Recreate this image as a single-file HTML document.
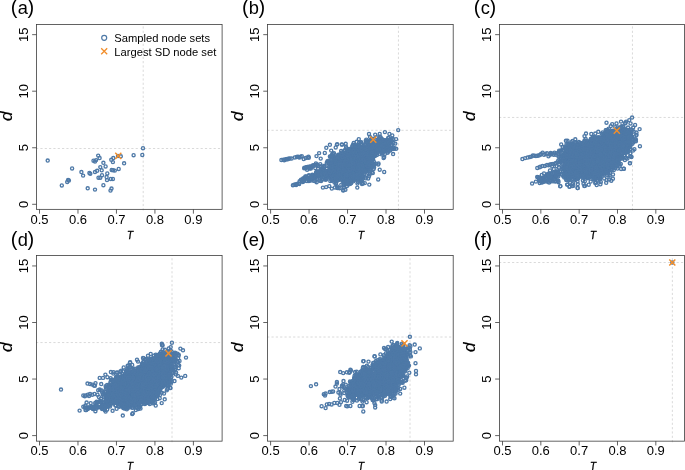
<!DOCTYPE html>
<html><head><meta charset="utf-8"><title>fig</title>
<style>html,body{margin:0;padding:0;background:#fff;width:685px;height:470px;overflow:hidden}</style></head>
<body>
<svg width="685" height="470" viewBox="0 0 685 470" style="position:absolute;left:0;top:0;will-change:transform;font-family:'Liberation Sans',sans-serif">
<defs>
<marker id="m" markerWidth="6" markerHeight="6" refX="3" refY="3" markerUnits="userSpaceOnUse" viewBox="0 0 6 6"><circle cx="3" cy="3" r="1.55" fill="none" stroke="#4e79a7" stroke-width="1.35"/></marker>
</defs>
<rect width="685" height="470" fill="#fff"/>
<g stroke="#d6d6d6" stroke-width="0.9" stroke-dasharray="2.2 2.13" fill="none"><path d="M36.05 148.50H222.10"/><path d="M143.20 210.45V24.45"/></g>
<polyline points="47.7,160.5 61.8,185.4 67.2,181.9 68.1,179.9 68.9,180.5 72.1,168.4 81.4,172.0 83.1,175.6 87.7,188.3 89.4,172.9 90.3,173.8 93.5,160.7 95.0,161.5 96.1,160.1 98.2,155.6 99.6,158.0 95.0,189.6 95.0,172.0 97.1,170.8 100.3,167.1 101.7,170.3 98.5,177.7 100.3,177.7 102.0,175.2 103.4,162.8 105.6,166.4 103.4,185.2 106.6,177.0 107.3,173.4 107.0,180.1 110.8,178.9 112.9,178.9 111.5,188.5 110.5,190.6 111.3,159.8 113.3,158.0 112.9,162.1 111.7,169.9 113.1,170.3 114.8,170.6 118.7,168.9 120.8,156.3 124.1,163.3 133.6,155.2 142.3,154.9 143.0,148.2 118.0,155.9" fill="none" stroke="none" marker-start="url(#m)" marker-mid="url(#m)" marker-end="url(#m)"/>
<path d="M115.25 152.85l6.1 6.1M115.25 158.95l6.1 -6.1" stroke="#f28e2b" stroke-width="1.45" fill="none"/>
<rect x="36.45" y="24.45" width="185.65" height="184.90" fill="none" stroke="#3c3c3c" stroke-width="0.8"/>
<path d="M39.50 209.35v4.3M77.97 209.35v4.3M116.45 209.35v4.3M154.93 209.35v4.3M193.40 209.35v4.3M36.45 204.30h-4.3M36.45 147.75h-4.3M36.45 91.20h-4.3M36.45 34.65h-4.3" stroke="#3c3c3c" stroke-width="0.8" fill="none"/>
<text x="39.50" y="224.00" font-size="13" text-anchor="middle" fill="#000">0.5</text>
<text x="77.97" y="224.00" font-size="13" text-anchor="middle" fill="#000">0.6</text>
<text x="116.45" y="224.00" font-size="13" text-anchor="middle" fill="#000">0.7</text>
<text x="154.93" y="224.00" font-size="13" text-anchor="middle" fill="#000">0.8</text>
<text x="193.40" y="224.00" font-size="13" text-anchor="middle" fill="#000">0.9</text>
<text transform="translate(27.75 204.30) rotate(-90)" font-size="13" text-anchor="middle" fill="#000">0</text>
<text transform="translate(27.75 147.75) rotate(-90)" font-size="13" text-anchor="middle" fill="#000">5</text>
<text transform="translate(27.75 91.20) rotate(-90)" font-size="13" text-anchor="middle" fill="#000">10</text>
<text transform="translate(27.75 34.65) rotate(-90)" font-size="13" text-anchor="middle" fill="#000">15</text>
<text transform="translate(129.95 238.70) scale(0.86 1)" font-size="11.6" font-style="italic" text-anchor="middle" fill="#000" stroke="#000" stroke-width="0.35">T</text>
<text transform="translate(12.25 116.25) rotate(-90)" font-size="17" font-style="italic" text-anchor="middle" fill="#000" stroke="#000" stroke-width="0.15">d</text>
<text x="10.85" y="14.35" font-size="18.3" fill="#000"><tspan font-size="20">(</tspan><tspan dx="0.14">a</tspan><tspan font-size="20" dx="-0.33">)</tspan></text>
<g stroke="#d6d6d6" stroke-width="0.9" stroke-dasharray="2.2 2.13" fill="none"><path d="M267.15 130.30H453.20"/><path d="M398.45 210.45V24.45"/></g>
<polyline points="342.6,166.3 344.0,162.8 363.7,170.0 343.8,158.4 349.6,171.6 364.6,159.5 369.4,150.1 315.1,177.7 379.4,149.3 358.2,153.8 386.1,141.3 358.4,157.1 369.0,146.2 357.7,148.6 367.6,167.9 361.9,161.1 352.4,178.0 360.7,154.5 335.8,177.9 341.3,184.7 347.3,169.9 366.3,142.6 356.3,150.2 369.5,167.0 361.1,158.8 370.1,141.0 331.4,175.4 342.7,170.6 334.6,166.9 352.8,180.1 379.1,140.6 349.3,177.1 362.1,163.8 353.9,149.8 347.9,169.3 345.1,150.2 318.9,174.7 332.4,170.2 340.9,154.1 361.4,171.5 388.3,138.1 371.4,146.4 348.2,179.4 367.1,141.7 349.1,166.9 375.4,150.8 349.2,157.7 361.2,156.0 362.1,170.5 364.3,166.9 339.2,164.1 365.2,159.4 356.2,157.0 372.2,145.0 354.4,168.4 374.2,141.8 339.7,170.5 366.1,165.7 334.2,160.9 360.6,180.1 333.8,172.5 367.0,149.0 367.9,147.9 332.6,177.3 389.0,145.6 387.6,147.8 349.2,165.2 349.8,179.8 346.9,164.8 331.0,165.4 345.7,143.8 350.5,163.4 381.8,143.0 332.8,174.7 336.5,159.8 334.7,176.2 354.3,159.5 359.8,148.4 351.7,148.9 336.2,173.4 339.9,163.1 329.9,156.5 337.1,175.6 348.5,181.4 382.8,142.2 360.9,142.3 353.9,166.3 364.2,149.6 372.5,154.5 344.4,156.4 350.2,157.8 374.0,149.4 347.8,155.5 368.0,164.0 379.6,143.9 332.5,168.0 371.3,149.9 369.7,142.2 334.2,173.0 341.3,164.2 325.0,179.3 343.5,178.9 353.4,171.9 347.2,158.0 378.2,144.9 360.3,164.0 346.5,179.6 385.7,142.7 370.2,147.0 376.0,163.6 310.9,168.6 361.3,166.7 319.7,171.1 340.0,155.2 347.1,168.0 322.6,173.4 344.3,169.9 333.1,167.4 338.2,156.7 348.3,149.6 319.0,174.2 352.6,170.6 360.3,161.7 342.5,180.3 321.5,176.6 365.3,144.5 339.1,171.0 370.0,137.0 352.0,161.2 367.9,165.4 345.9,156.6 364.0,170.5 374.2,149.7 337.3,175.9 362.1,152.6 390.1,150.5 330.2,178.3 331.8,157.7 347.8,155.9 348.1,166.8 364.9,157.0 342.0,168.5 324.4,171.8 353.3,181.3 365.2,157.7 372.4,153.1 343.0,162.7 331.4,175.8 361.5,160.3 336.5,178.3 373.0,146.0 331.9,164.7 342.5,166.2 337.7,169.7 326.5,178.2 333.7,157.6 350.5,165.5 328.1,161.3 373.8,161.5 357.9,153.6 359.0,168.2 347.3,163.4 382.4,150.9 301.0,179.8 360.7,165.8 374.1,167.6 372.4,156.9 334.7,158.8 365.0,165.5 338.6,164.7 367.5,154.9 306.1,178.4 349.7,154.9 368.3,144.7 371.8,167.3 370.3,157.9 342.9,161.4 354.7,165.7 367.4,153.3 370.5,148.5 371.4,146.7 359.1,165.2 351.2,172.9 376.5,146.4 354.5,152.3 338.9,161.4 346.2,166.1 330.3,175.7 346.5,168.3 359.4,169.8 375.9,146.6 350.3,151.4 345.4,181.1 320.1,172.5 375.2,145.4 377.2,151.6 342.7,153.8 350.4,165.0 375.2,155.7 360.0,153.7 360.6,150.2 351.8,159.7 313.0,177.1 331.5,166.2 355.4,171.0 339.8,166.0 346.5,161.1 380.6,149.3 346.7,154.7 368.0,163.4 376.4,151.3 349.9,161.5 373.3,145.7 338.6,156.1 340.5,174.6 353.3,171.7 371.4,150.3 355.2,178.5 346.2,168.1 342.1,153.4 342.8,160.6 342.8,154.1 365.3,158.0 322.3,169.8 357.1,176.4 358.7,159.7 332.1,179.5 326.6,175.0 382.1,154.4 332.7,164.8 334.4,172.7 323.7,173.4 354.0,152.8 344.3,163.1 338.4,155.0 344.3,164.2 342.8,155.5 357.2,167.8 330.4,167.5 365.4,170.8 370.4,161.9 346.7,154.6 347.6,162.3 354.4,145.0 381.7,139.0 351.3,154.1 354.7,162.8 335.3,176.1 308.9,180.9 361.1,147.7 333.4,175.1 384.2,142.3 370.3,144.6 385.0,153.8 381.6,152.0 353.2,167.7 358.2,162.9 345.9,155.6 358.3,179.8 316.9,171.8 385.9,145.7 374.8,151.5 363.0,152.5 321.8,179.5 324.3,177.5 342.7,168.8 362.9,160.5 338.5,163.3 367.4,166.9 338.4,163.7 351.0,167.7 393.5,143.0 343.0,160.2 342.8,174.6 329.3,166.7 372.4,149.2 357.5,183.5 338.4,165.4 354.4,148.5 365.9,151.4 331.2,179.0 351.1,167.5 346.4,177.9 323.8,173.7 340.8,168.7 362.6,169.4 329.1,171.5 333.7,171.6 366.5,165.5 365.2,169.3 389.1,148.5 358.8,150.4 304.5,167.7 370.4,164.1 338.5,164.0 376.0,153.5 387.5,152.6 359.8,172.8 379.9,146.6 324.6,165.8 367.9,156.8 379.7,143.5 354.9,156.2 357.1,146.4 353.7,156.3 373.5,147.7 325.5,179.5 322.1,172.0 310.0,179.2 370.7,144.1 352.5,163.5 353.1,174.1 353.1,144.8 358.1,170.6 359.4,148.8 352.7,180.1 360.3,154.7 352.6,173.4 342.1,171.4 344.6,165.8 358.0,150.6 346.3,148.3 344.8,181.9 340.9,174.5 385.4,146.7 341.1,155.8 350.0,165.5 381.0,147.4 323.8,168.1 360.4,158.7 321.1,180.9 342.6,180.1 350.2,152.8 357.8,157.7 375.6,144.7 350.1,168.7 361.9,166.5 358.8,157.6 326.9,175.4 340.1,171.1 363.5,150.0 338.9,166.1 334.8,162.0 325.4,173.3 356.6,176.4 386.8,141.1 353.0,168.9 332.0,167.7 350.2,178.0 383.8,145.4 332.2,176.4 338.4,168.5 339.5,161.3 371.0,162.0 350.1,179.4 304.9,177.4 336.0,184.0 340.4,164.9 358.2,160.8 362.5,158.5 359.2,156.3 331.1,172.6 346.5,157.5 359.7,161.7 378.5,163.4 348.4,159.7 344.0,178.7 373.6,169.0 360.4,171.4 333.4,177.7 361.2,144.4 316.8,178.9 375.1,146.9 341.9,171.4 333.1,177.9 350.0,149.4 356.5,173.8 323.0,170.7 350.9,151.7 335.0,180.5 330.6,174.1 357.5,167.9 334.1,169.0 327.8,175.7 325.6,170.8 358.5,145.0 384.9,143.3 358.1,170.0 347.5,182.3 372.8,152.5 352.8,164.6 336.7,174.2 359.4,162.7 371.2,147.7 351.2,182.9 331.1,161.8 343.4,181.5 356.6,177.2 342.3,165.3 344.6,167.7 338.0,177.2 388.3,138.0 386.8,143.1 361.8,144.2 352.2,161.4 372.8,173.0 351.7,161.5 384.6,140.8 376.2,148.6 339.9,167.5 334.6,166.1 369.2,143.6 387.9,142.1 367.3,169.7 348.2,156.4 326.1,179.5 353.4,176.5 371.7,152.7 359.3,159.9 362.4,170.9 361.4,172.6 344.2,182.1 357.0,175.3 360.5,155.0 372.9,142.9 339.5,167.1 350.7,178.2 349.7,174.2 382.4,139.6 368.7,165.6 341.7,156.5 357.1,156.6 385.2,145.1 343.3,166.0 337.3,163.6 333.8,178.5 367.0,170.9 354.7,157.6 376.4,142.9 342.4,161.0 366.4,163.4 346.9,156.3 359.9,162.8 363.1,168.3 359.2,163.0 352.1,168.3 373.3,157.1 348.1,171.0 370.1,173.4 362.4,172.0 351.4,164.7 342.6,174.3 341.5,167.5 333.1,164.1 355.3,178.2 352.5,169.6 369.5,163.4 319.7,180.7 335.3,165.6 339.7,162.6 387.8,140.0 355.0,164.5 367.5,167.2 352.8,162.7 357.9,148.0 345.7,184.1 351.2,153.3 325.7,177.1 362.6,153.1 383.9,146.2 350.8,180.7 349.5,172.8 378.7,139.0 371.9,172.5 363.3,152.3 364.7,160.2 337.2,165.6 363.8,157.7 382.2,152.9 359.2,152.8 331.0,163.4 368.1,162.4 355.3,148.2 391.0,139.8 353.0,160.1 312.6,178.2 353.9,165.6 350.3,156.0 333.5,156.5 367.6,153.5 299.2,183.9 377.4,141.1 354.6,149.2 347.8,162.2 379.1,142.0 383.6,158.0 354.1,174.5 316.8,173.6 341.8,162.4 360.8,147.7 332.4,171.0 366.7,152.5 353.9,162.1 354.1,159.0 362.8,176.8 354.4,172.5 367.6,172.7 370.5,162.9 338.8,164.5 377.8,148.9 352.1,170.7 367.8,152.9 341.1,168.3 315.2,181.1 313.6,175.3 347.1,153.6 337.1,166.1 370.6,155.1 342.8,165.8 343.3,160.3 352.2,146.3 341.1,159.1 342.9,175.8 371.6,161.6 332.3,162.9 352.3,158.6 333.6,164.9 364.9,170.3 385.5,149.3 353.0,145.5 352.8,178.7 363.2,151.0 357.8,160.6 358.3,151.6 352.4,158.0 369.5,145.4 346.0,146.7 313.3,175.5 358.6,158.6 355.3,173.3 349.8,158.4 317.9,165.9 354.5,151.9 338.7,169.5 368.0,166.1 338.9,160.4 340.3,177.9 343.1,175.7 365.6,149.6 370.1,168.8 379.7,140.7 338.4,175.3 361.0,152.2 355.2,164.0 346.7,170.5 372.1,144.3 302.6,179.2 346.2,180.3 362.1,165.1 357.6,158.7 347.9,162.1 390.6,142.2 358.2,154.7 333.4,161.9 331.6,164.9 361.9,165.0 351.8,150.5 342.0,163.1 355.8,176.2 374.9,147.2 328.5,163.3 337.4,187.9 341.2,169.5 377.8,143.1 343.5,162.0 339.7,177.1 357.5,178.3 382.1,145.1 346.1,180.0 334.5,171.1 339.4,164.0 352.8,158.8 385.6,148.5 349.0,166.4 344.1,180.8 340.7,174.0 346.4,152.4 354.2,180.0 344.8,160.3 321.6,169.4 373.0,165.2 343.4,184.7 367.1,165.7 338.3,167.7 336.7,165.5 344.6,157.9 347.6,173.6 336.6,172.7 376.8,149.9 330.7,167.8 344.7,166.7 369.1,152.3 348.1,178.8 344.6,164.6 332.9,177.2 326.8,162.5 356.3,158.4 359.2,151.3 346.1,176.2 313.8,165.6 358.3,149.9 364.3,164.8 332.0,172.4 369.2,158.2 358.0,147.1 337.2,157.6 352.6,158.7 360.2,161.2 378.5,147.3 343.5,153.5 357.0,177.3 354.2,163.5 353.5,158.1 357.8,154.6 355.2,155.0 352.7,178.0 347.1,166.4 380.5,146.5 360.4,169.0 366.4,161.4 375.9,142.0 323.9,172.2 333.3,175.2 362.6,169.1 343.6,162.3 363.2,171.9 310.4,167.8 337.9,163.3 342.9,159.8 354.8,150.3 374.7,151.5 339.8,161.0 340.2,171.6 360.1,147.8 375.6,147.8 354.6,167.1 349.7,179.8 370.6,162.4 348.7,157.0 368.9,155.2 337.8,159.3 381.3,152.1 315.6,175.6 338.1,158.6 389.3,143.0 346.8,181.9 339.0,164.2 371.8,164.7 393.7,147.6 371.0,157.0 339.7,165.9 386.9,140.0 356.6,172.8 342.4,159.9 338.7,169.7 346.3,177.0 379.3,145.8 352.7,178.9 345.6,163.1 365.0,146.2 358.7,175.9 335.6,157.6 347.9,177.3 341.4,175.0 367.8,166.8 361.4,169.9 339.6,188.2 333.3,180.2 362.4,176.5 387.7,147.0 317.0,177.6 344.0,179.1 350.0,168.2 351.8,169.9 372.7,156.2 362.8,183.4 383.3,146.6 327.5,172.7 342.9,157.8 373.7,155.9 335.7,180.0 344.0,184.9 382.4,149.8 392.2,149.0 339.2,179.8 385.6,151.1 360.1,164.6 358.0,177.1 336.1,182.8 354.9,174.5 339.4,170.4 351.8,159.8 365.9,148.7 349.2,171.5 339.7,161.0 361.6,168.9 330.9,171.3 347.0,178.7 369.4,163.4 323.0,172.0 322.2,179.4 330.1,173.1 357.0,148.2 375.5,152.2 366.9,161.2 357.7,157.6 334.2,157.9 357.2,157.3 353.0,164.4 358.5,161.9 350.7,177.5 336.2,175.3 354.6,164.0 332.6,162.5 380.6,150.2 333.7,173.0 367.0,163.2 363.5,162.9 343.3,177.1 352.4,179.9 334.8,173.1 339.2,178.2 357.8,172.8 339.8,159.7 373.2,145.9 327.5,161.2 386.0,140.6 356.0,163.1 394.5,148.5 391.4,138.4 346.2,163.4 353.4,149.9 344.0,185.4 373.1,159.0 362.4,174.5 333.2,163.7 375.0,148.1 329.2,162.8 380.0,150.0 353.2,174.1 334.5,174.5 363.5,147.8 364.9,158.9 373.5,165.3 374.5,154.5 349.3,152.6 339.3,178.2 358.2,165.5 372.9,156.5 330.3,181.0 364.1,147.1 362.3,163.7 369.1,148.4 370.6,169.3 342.7,165.0 375.6,154.3 315.8,176.2 354.8,151.0 353.8,155.2 361.3,178.8 332.4,165.6 370.9,144.1 365.9,157.4 359.1,160.4 379.8,136.6 364.9,155.6 342.7,180.7 367.7,153.8 336.2,162.3 358.5,160.8 342.6,169.4 351.6,178.0 350.5,168.5 373.2,149.5 352.8,149.4 370.5,148.5 348.8,180.4 334.0,153.2 365.8,157.8 383.2,144.9 354.2,151.5 362.9,169.4 363.7,161.9 354.8,171.7 357.7,167.6 346.3,158.2 336.4,176.7 363.5,153.3 358.0,159.0 333.1,178.5 384.5,150.2 370.0,142.3 348.8,175.5 361.4,167.2 357.0,163.6 336.0,160.8 344.5,160.6 334.0,176.7 336.8,180.9 330.5,168.7 347.4,184.1 358.4,153.1 382.0,147.2 366.6,155.2 384.6,141.6 350.3,169.3 338.5,187.8 341.8,176.9 341.1,150.9 371.4,152.0 388.0,144.4 345.9,167.4 360.4,167.1 346.0,154.1 349.1,159.0 369.8,155.6 337.6,174.1 383.6,148.1 346.5,152.1 336.0,165.3 316.6,182.2 338.7,166.5 338.6,178.3 358.7,166.4 323.7,166.5 342.6,173.3 389.3,141.9 339.0,157.8 341.6,152.5 361.8,154.8 346.2,174.0 364.8,176.8 333.9,171.5 340.5,173.3 342.4,163.6 374.0,164.2 376.6,137.1 366.6,156.0 349.7,168.3 330.5,166.2 368.0,149.1 347.5,179.7 364.2,165.3 372.6,149.9 354.4,164.3 344.9,181.1 337.4,173.2 374.2,155.5 351.2,179.3 342.8,163.7 356.8,174.4 328.2,170.8 357.7,172.4 348.9,158.0 357.0,146.2 390.3,149.4 331.9,164.9 373.5,146.8 333.6,171.4 338.9,171.4 328.7,160.6 342.8,164.5 352.5,175.1 365.4,144.2 343.4,169.6 325.6,171.1 337.8,171.0 362.4,165.8 366.7,164.9 351.3,179.6 337.6,158.6 363.2,170.4 357.1,174.4 388.5,150.9 345.8,169.3 373.3,148.7 352.8,152.4 349.7,164.9 313.3,176.5 341.5,173.7 339.0,158.7 376.3,141.4 370.9,147.9 350.0,168.7 377.6,146.7 383.1,144.6 334.4,162.3 337.2,167.7 351.0,168.6 343.4,153.9 348.4,161.8 345.5,180.2 337.9,168.0 367.5,169.2 334.1,174.4 349.1,163.1 368.1,156.5 365.8,178.3 368.8,150.8 344.5,154.0 353.4,168.4 354.5,177.6 336.4,164.5 365.3,156.1 361.1,169.9 357.6,179.2 346.0,155.0 330.3,176.4 344.5,150.4 340.4,178.7 369.9,161.2 338.5,169.1 373.6,141.4 355.3,164.3 343.7,171.2 377.1,146.5 375.6,148.9 338.9,163.5 334.9,170.0 315.2,168.0 313.4,177.4 350.7,177.3 340.1,158.0 387.9,145.9 341.0,169.7 339.4,165.4 330.6,162.6 332.0,154.7 345.3,171.9 350.8,169.5 336.6,176.6 366.6,162.2 341.2,170.9 358.0,182.1 333.9,176.4 378.8,151.8 375.1,148.7 333.0,170.6 327.0,173.6 355.0,152.4 371.7,148.8 327.8,175.9 343.2,158.7 349.4,149.0 359.7,156.2 376.9,155.1 340.7,177.0 359.3,162.6 355.7,154.1 362.0,182.8 353.5,158.5 379.5,148.1 320.6,169.5 344.3,154.1 366.5,164.2 339.8,170.4 347.5,172.7 334.2,161.7 341.0,174.3 341.8,165.4 341.2,176.5 376.0,142.4 350.4,183.8 362.1,147.4 365.7,154.6 371.8,159.8 341.3,166.6 368.6,156.0 339.7,162.8 365.7,159.0 386.6,146.6 352.8,157.1 374.1,156.0 342.8,165.8 370.0,149.4 373.5,147.2 366.5,147.7 383.2,145.0 332.7,173.8 361.6,176.3 335.8,168.7 372.7,151.8 364.9,153.9 356.8,177.1 317.0,174.8 383.8,144.0 349.7,156.8 373.8,163.6 336.2,167.6 346.3,180.4 369.5,170.3 331.0,178.3 336.3,180.2 340.5,178.3 340.2,160.9 345.0,151.2 353.7,142.9 345.9,163.1 380.9,146.8 326.1,175.4 353.0,167.1 387.0,140.3 383.6,142.6 365.9,164.8 363.9,173.9 371.4,155.9 373.2,156.3 350.3,151.6 345.1,167.9 349.2,155.7 330.0,170.4 359.4,150.3 348.1,164.5 365.7,140.8 369.0,141.2 391.5,145.0 391.2,142.4 353.5,169.1 322.1,170.6 350.7,175.9 343.2,174.6 321.3,177.3 375.0,145.8 346.4,165.3 379.4,144.1 358.4,146.2 326.8,168.8 351.7,167.2 365.3,171.6 359.2,142.6 361.4,168.4 370.4,145.1 336.9,166.8 370.5,158.7 369.0,145.4 371.5,156.4 342.0,174.3 368.2,178.4 362.0,163.5 343.8,187.3 332.9,178.7 332.1,165.7 349.6,166.9 335.1,157.6 345.7,178.4 348.0,156.5 360.9,165.1 341.8,171.8 350.3,160.0 332.5,172.5 358.1,168.4 392.8,138.9 349.6,170.7 354.7,178.9 362.0,180.8 331.6,174.9 349.1,151.7 368.2,166.1 360.7,157.3 349.7,152.6 381.4,145.6 338.6,179.4 381.3,142.9 353.8,151.4 345.9,162.1 366.0,162.4 369.5,174.4 351.5,150.6 355.0,152.8 370.9,154.2 342.5,172.9 326.9,174.0 355.1,161.4 349.9,174.2 372.4,160.6 337.5,164.1 345.0,178.3 361.1,154.9 380.8,146.0 359.3,177.5 353.3,173.8 365.5,156.6 362.7,147.3 360.2,170.1 355.7,146.1 353.8,164.0 391.8,144.6 362.0,164.6 365.1,170.7 331.0,156.4 350.3,161.0 324.1,170.1 349.1,184.3 336.0,163.0 331.9,180.8 361.6,161.3 389.1,140.2 367.0,170.7 371.9,138.6 368.1,163.9 344.1,178.0 381.4,142.6 360.7,177.1 354.4,166.1 346.2,159.2 364.1,159.8 336.4,175.2 353.7,164.5 329.0,173.8 317.9,165.9 333.7,156.1 346.7,160.9 351.0,161.1 384.6,141.7 334.1,168.3 361.9,174.3 379.5,146.8 359.9,164.7 338.3,154.8 350.9,174.9 344.7,154.0 379.7,139.9 341.7,168.5 332.7,157.3 347.3,160.1 367.8,147.7 373.3,139.0 355.9,156.9 380.8,137.5 362.9,159.1 361.7,153.0 337.2,167.4 365.1,149.6 370.9,139.7 367.7,146.0 347.0,186.1 370.3,146.4 337.3,160.0 371.6,161.9 335.2,159.6 357.0,177.0 333.0,169.0 343.1,173.1 336.7,167.9 343.8,153.2 353.0,158.7 336.6,177.5 384.5,144.1 361.8,149.2 332.9,153.5 341.5,171.5 349.7,165.8 331.5,159.1 329.6,172.3 368.8,154.4 333.0,177.2 357.6,177.3 340.2,175.4 345.9,178.1 329.3,166.4 382.4,140.0 344.5,182.7 387.2,146.4 354.6,167.1 331.2,166.6 372.3,143.6 371.8,153.9 330.4,161.9 339.8,166.3 370.2,149.5 309.7,168.6 328.0,172.2 348.4,156.4 355.3,147.8 341.3,159.3 337.3,167.5 353.7,174.2 339.1,157.2 347.2,175.1 314.7,177.7 344.9,156.2 335.5,176.0 356.6,170.1 368.4,162.7 333.2,171.6 337.5,164.6 393.9,148.8 335.2,165.4 379.1,145.4 358.9,164.8 343.8,170.3 318.8,175.7 393.0,139.2 344.8,161.4 361.8,148.5 372.2,152.2 352.9,162.9 383.5,140.0 342.5,170.9 361.1,159.4 371.3,150.0 389.3,144.1 342.8,157.2 333.9,171.0 348.5,152.0 387.7,152.5 354.4,175.6 338.4,162.7 347.4,180.6 362.3,179.4 330.5,171.6 334.5,182.4 358.1,168.1 369.0,176.3 368.8,142.9 337.7,176.0 307.1,169.7 389.9,141.7 330.0,172.2 307.0,181.0 317.0,164.5 362.0,183.9 371.3,159.9 361.7,169.3 323.6,174.8 362.5,152.7 361.4,149.0 390.2,147.7 324.7,173.5 345.6,161.4 344.8,163.4 379.1,149.4 339.0,170.0 371.4,148.3 358.3,158.6 319.3,176.0 340.8,172.6 353.2,150.6 386.5,146.0 384.8,149.7 353.1,168.1 345.7,175.2 379.2,144.4 353.8,168.5 338.4,175.5 320.2,176.5 361.2,168.8 348.6,171.3 321.5,168.2 381.7,145.1 339.9,163.2 386.0,142.3 324.4,166.1 358.7,155.5 320.6,173.2 359.0,170.9 340.0,164.8 352.7,176.5 383.4,144.9 348.0,167.2 362.3,165.6 347.6,155.0 357.1,156.6 362.6,166.6 379.5,153.7 343.8,164.5 350.3,181.8 350.2,166.5 342.6,157.0 372.2,147.1 348.8,173.6 381.7,144.2 335.7,178.4 353.3,150.8 356.6,141.8 349.9,169.9 383.5,148.8 337.6,156.2 383.4,151.9 361.3,163.9 341.6,154.8 359.4,168.5 347.7,184.3 358.1,167.9 362.2,165.5 346.1,174.9 373.3,141.4 325.9,175.1 383.5,148.0 370.8,139.7 357.8,174.8 363.2,159.7 361.3,142.5 359.1,174.5 348.6,152.8 306.7,167.2 305.8,167.9 312.8,166.0 308.0,166.9 310.8,166.8 307.3,167.0 315.2,165.0 304.2,168.2 312.6,165.4 316.7,165.2 309.8,166.5 305.6,167.8 305.3,168.0 314.0,165.2 309.7,167.5 308.3,167.1 309.9,177.9 309.9,179.0 313.6,180.8 310.8,180.4 302.8,181.9 304.3,181.0 311.6,179.1 302.9,180.7 302.2,181.1 312.5,178.8 299.6,181.3 308.1,178.8 308.9,179.5 310.8,178.6 312.6,178.4 303.4,178.2 302.7,180.3 308.5,178.4 312.1,175.7 312.3,174.7 312.9,176.9 307.6,178.1 316.0,172.7 308.9,175.3 309.1,176.0 311.3,175.7 305.4,176.4 306.3,176.4 317.1,172.0 306.1,177.8 316.7,171.1 316.9,174.0 281.4,160.0 283.3,159.8 285.2,159.5 287.1,159.0 288.4,158.8 289.7,158.5 291.6,158.5 294.8,157.4 296.7,157.0 298.6,157.0 300.5,156.7 301.8,156.1 303.7,159.0 305.7,158.0 307.6,157.4 308.5,156.7 308.8,157.7 284.2,160.2 286.2,159.3 287.8,159.3 297.7,156.7 299.5,157.4 319.1,153.1 316.5,156.1 320.7,158.6 324.8,152.9 326.3,147.8 329.9,144.8 331.2,150.6 335.7,147.4 336.9,144.6 342.1,144.6 315.9,163.4 320.3,164.1 321.0,166.3 292.9,185.2 294.2,184.8 295.4,184.4 297.0,183.9 298.6,183.5 296.1,185.1 322.9,187.6 326.1,187.1 329.3,186.1 331.8,188.6 335.0,187.4 336.9,186.1 343.3,189.9 337.2,144.1 341.7,144.4 358.8,139.1 366.3,139.6 369.0,133.9 375.2,134.7 379.7,133.9 384.9,132.1 389.4,133.9 392.3,135.4 396.1,139.1 395.3,143.6 396.1,148.8 393.1,154.0 384.2,157.0 378.2,164.5 379.7,169.7 384.2,171.9 378.2,179.4 369.3,184.6 364.8,183.1 357.3,187.6 345.4,189.8 343.2,190.5 398.2,130.1" fill="none" stroke="none" marker-start="url(#m)" marker-mid="url(#m)" marker-end="url(#m)"/>
<path d="M370.25 136.55l6.1 6.1M370.25 142.65l6.1 -6.1" stroke="#f28e2b" stroke-width="1.45" fill="none"/>
<rect x="267.55" y="24.45" width="185.65" height="184.90" fill="none" stroke="#3c3c3c" stroke-width="0.8"/>
<path d="M270.60 209.35v4.3M309.07 209.35v4.3M347.55 209.35v4.3M386.02 209.35v4.3M424.50 209.35v4.3M267.55 204.30h-4.3M267.55 147.75h-4.3M267.55 91.20h-4.3M267.55 34.65h-4.3" stroke="#3c3c3c" stroke-width="0.8" fill="none"/>
<text x="270.60" y="224.00" font-size="13" text-anchor="middle" fill="#000">0.5</text>
<text x="309.07" y="224.00" font-size="13" text-anchor="middle" fill="#000">0.6</text>
<text x="347.55" y="224.00" font-size="13" text-anchor="middle" fill="#000">0.7</text>
<text x="386.02" y="224.00" font-size="13" text-anchor="middle" fill="#000">0.8</text>
<text x="424.50" y="224.00" font-size="13" text-anchor="middle" fill="#000">0.9</text>
<text transform="translate(258.85 204.30) rotate(-90)" font-size="13" text-anchor="middle" fill="#000">0</text>
<text transform="translate(258.85 147.75) rotate(-90)" font-size="13" text-anchor="middle" fill="#000">5</text>
<text transform="translate(258.85 91.20) rotate(-90)" font-size="13" text-anchor="middle" fill="#000">10</text>
<text transform="translate(258.85 34.65) rotate(-90)" font-size="13" text-anchor="middle" fill="#000">15</text>
<text transform="translate(361.05 238.70) scale(0.86 1)" font-size="11.6" font-style="italic" text-anchor="middle" fill="#000" stroke="#000" stroke-width="0.35">T</text>
<text transform="translate(243.35 116.25) rotate(-90)" font-size="17" font-style="italic" text-anchor="middle" fill="#000" stroke="#000" stroke-width="0.15">d</text>
<text x="241.95" y="14.35" font-size="18.3" fill="#000"><tspan font-size="20">(</tspan><tspan dx="0.14">b</tspan><tspan font-size="20" dx="-0.33">)</tspan></text>
<g stroke="#d6d6d6" stroke-width="0.9" stroke-dasharray="2.2 2.13" fill="none"><path d="M499.05 117.45H684.60"/><path d="M632.45 210.45V24.45"/></g>
<polyline points="582.4,149.6 581.3,150.7 577.4,173.3 632.5,138.7 623.2,146.8 583.0,173.9 565.9,173.7 627.5,150.1 621.6,138.5 577.4,167.6 614.3,132.9 597.4,156.8 617.7,158.3 558.0,171.7 585.0,158.7 607.0,165.5 618.2,133.5 573.3,147.1 606.2,148.0 603.2,142.9 616.1,133.3 594.5,148.6 608.6,155.5 591.9,154.8 603.7,160.8 600.0,152.5 630.2,133.9 613.3,159.6 566.4,157.5 625.8,150.5 602.3,148.1 623.0,136.9 626.0,146.1 599.0,172.8 630.9,136.8 613.4,146.2 565.2,171.3 560.9,162.1 602.0,152.0 583.5,152.1 573.9,174.6 625.0,142.4 574.6,148.5 615.3,156.6 581.4,175.4 618.5,144.5 582.6,171.5 615.7,138.2 602.8,169.8 565.6,177.2 586.3,175.7 597.2,157.2 580.3,149.3 592.5,157.4 581.3,176.5 584.6,140.4 576.7,153.0 606.1,164.3 606.8,160.6 574.6,168.0 579.2,169.4 579.1,144.7 583.7,164.0 579.9,155.9 610.7,145.8 621.1,149.5 575.3,173.4 584.2,177.3 623.2,150.9 613.8,169.9 573.7,172.8 607.7,163.6 566.2,146.5 601.2,164.3 606.4,151.1 568.0,171.7 619.5,128.9 593.9,171.7 598.1,164.7 595.7,147.0 570.0,160.7 600.2,170.8 604.9,144.5 568.5,176.5 586.5,164.2 604.9,166.8 612.1,130.8 588.9,156.8 571.3,174.3 620.9,132.9 585.6,156.1 603.6,149.4 600.0,168.6 596.6,159.9 598.4,150.3 606.6,167.1 594.7,151.9 595.5,176.1 565.5,157.7 587.9,171.3 571.8,144.8 611.4,153.3 604.6,140.6 610.0,151.3 589.4,153.3 572.9,163.1 613.4,164.1 587.3,159.3 580.6,165.7 565.6,153.6 600.9,141.3 571.5,154.2 601.7,137.6 619.4,137.2 583.1,161.9 602.6,154.0 626.6,148.0 565.0,165.4 599.9,156.1 562.9,149.8 579.7,176.6 594.9,162.9 585.1,158.1 624.9,148.7 593.4,152.0 601.0,141.1 558.6,156.7 612.3,165.2 630.0,132.2 591.7,165.8 560.3,171.5 564.3,177.4 585.9,171.3 578.4,157.6 624.4,136.5 574.4,157.7 571.4,148.2 598.3,131.8 614.3,133.1 585.7,175.6 620.0,149.3 605.7,145.9 575.9,169.5 573.0,172.9 610.3,150.5 599.3,160.8 629.1,142.4 607.2,145.3 566.6,148.2 585.0,173.8 627.1,140.3 596.2,137.5 629.3,120.1 600.0,170.1 574.7,175.6 621.5,146.0 571.8,158.4 615.6,163.0 570.4,165.9 588.2,167.8 582.3,169.3 606.3,133.8 596.6,143.7 622.2,147.8 592.2,169.3 614.1,131.1 609.4,138.9 567.4,169.5 575.2,179.4 608.7,170.5 575.7,159.7 583.6,171.1 578.2,160.9 597.3,146.0 570.0,147.9 610.9,149.6 619.9,146.9 595.6,141.9 583.2,172.2 617.3,157.0 583.2,161.1 588.1,144.5 570.2,178.2 585.9,155.3 559.4,156.7 611.9,151.2 577.1,161.4 594.4,156.8 588.0,178.3 595.3,133.5 570.5,153.1 611.8,166.8 602.7,160.2 601.9,141.4 592.5,171.1 589.0,175.8 610.9,159.7 607.9,130.4 611.7,153.5 598.9,151.7 620.5,156.4 578.3,152.3 575.2,148.0 573.5,166.0 590.5,158.8 623.3,147.2 612.5,148.0 569.9,176.2 593.9,170.3 612.5,134.8 564.6,173.5 575.3,139.3 594.4,145.5 585.0,175.0 615.3,135.4 567.8,153.9 592.2,152.8 586.3,148.0 599.3,159.1 615.2,127.1 612.4,138.8 614.1,158.3 601.6,137.9 613.8,137.7 584.5,141.2 593.1,154.8 624.3,129.3 570.4,169.1 588.0,160.6 606.6,142.6 631.4,132.4 572.4,151.6 587.6,147.5 571.4,179.3 626.6,137.7 593.4,158.8 624.2,150.7 600.5,150.2 602.0,152.4 579.8,168.7 595.7,175.3 610.4,143.6 571.6,164.3 604.9,166.8 605.3,141.0 619.8,139.6 601.3,163.3 602.0,165.1 586.6,167.4 604.5,153.3 583.8,165.2 627.1,141.2 568.3,145.3 628.6,144.1 581.2,148.8 580.2,150.2 622.1,155.7 573.8,151.7 587.8,162.6 595.1,155.1 603.3,156.0 585.4,153.1 613.1,145.0 620.1,156.8 572.1,171.3 611.7,133.0 564.9,161.6 614.8,142.4 569.7,162.7 587.2,177.4 625.9,131.5 617.6,149.0 615.9,152.7 572.3,156.4 612.0,135.2 617.9,136.9 591.3,133.9 581.6,160.7 595.8,171.0 587.3,169.8 625.8,132.6 563.3,155.9 567.5,157.2 598.7,173.1 621.4,157.7 601.3,156.2 601.9,165.0 616.2,149.5 587.7,142.7 568.2,173.8 606.8,144.8 570.7,170.8 570.9,165.2 577.8,158.8 575.7,146.6 629.8,142.3 586.9,151.3 608.9,149.9 592.0,151.7 598.8,168.0 628.0,127.5 589.3,141.4 615.8,148.6 621.3,149.2 613.0,160.2 619.8,132.3 578.7,152.2 606.9,143.9 602.7,168.0 591.6,161.3 630.3,153.4 563.5,159.6 613.5,155.4 615.2,160.6 586.1,144.6 607.4,158.1 613.8,144.2 578.1,156.1 628.4,131.5 597.7,176.3 600.5,151.9 579.2,157.8 598.4,145.5 625.2,130.0 592.6,162.9 585.4,167.6 578.3,168.8 616.7,150.4 596.4,169.9 572.6,170.0 605.2,140.8 606.1,153.2 579.4,170.9 620.3,132.2 608.4,150.2 569.1,154.5 583.7,149.0 610.8,126.1 606.0,168.7 618.0,152.1 597.3,145.6 585.8,143.2 592.2,159.1 618.1,152.0 564.7,153.7 628.9,138.1 585.5,144.0 612.4,135.9 604.1,133.9 591.9,171.8 609.1,155.0 571.3,170.8 574.5,153.2 610.9,161.0 580.8,150.2 594.6,157.8 561.8,167.3 625.8,131.3 581.8,159.1 612.2,167.2 604.6,169.3 594.1,141.4 609.9,175.4 571.6,157.9 600.8,156.6 567.3,159.1 587.5,167.5 576.1,162.8 603.7,147.2 605.6,167.0 570.4,164.6 612.0,131.7 602.3,164.8 569.4,171.6 572.3,184.1 606.3,167.0 610.2,167.3 594.1,140.2 606.5,153.0 594.5,148.5 583.0,171.0 601.1,148.0 587.1,153.1 609.8,157.2 586.9,167.2 594.7,143.3 608.2,171.0 592.0,149.2 619.5,155.6 602.7,151.1 590.6,153.0 610.2,137.3 627.8,134.9 620.8,164.0 575.4,143.1 610.1,165.3 582.7,160.3 565.1,154.1 616.7,143.4 595.3,161.8 565.0,173.7 617.5,168.6 608.8,144.1 570.2,172.4 616.2,160.6 609.4,134.6 617.3,144.6 572.1,164.0 566.4,156.1 566.8,174.3 626.7,152.2 585.4,157.4 606.6,180.1 614.8,140.6 628.6,137.0 573.8,147.4 573.1,147.5 588.5,152.1 590.6,174.4 580.7,161.6 593.3,144.1 607.9,164.7 589.5,148.7 576.0,158.6 611.9,159.6 616.0,165.2 613.7,155.4 614.2,137.8 566.7,152.1 564.3,172.7 592.4,157.0 579.4,162.4 610.7,150.1 589.7,165.7 574.6,164.8 578.2,152.0 590.3,142.7 596.6,173.2 611.4,149.5 563.6,166.3 604.6,155.7 607.8,171.2 610.1,151.4 604.1,140.9 580.4,153.1 626.9,148.9 595.2,160.7 600.3,149.6 565.1,164.0 570.3,158.6 603.6,149.7 604.0,174.8 588.0,172.9 604.0,163.3 589.1,176.6 575.3,156.4 592.2,145.1 624.5,129.6 617.3,135.2 622.2,142.1 635.9,139.5 575.1,161.2 589.3,169.9 572.5,140.9 570.6,177.6 617.9,141.4 597.5,150.8 620.1,148.4 581.2,154.4 599.2,177.0 606.6,150.4 613.6,145.5 593.7,165.6 591.7,142.2 597.7,180.7 578.0,160.7 587.3,145.1 577.5,156.2 614.8,137.9 630.9,129.6 609.6,164.8 561.0,157.8 622.1,141.6 617.4,160.1 626.0,143.5 584.4,145.2 604.6,136.1 583.7,145.3 586.1,164.5 592.8,169.8 586.0,174.9 616.6,132.6 593.9,158.3 618.3,144.3 592.3,146.4 600.9,161.4 617.5,134.3 596.0,160.9 623.1,128.8 601.9,162.4 599.3,143.3 618.8,146.0 566.8,173.6 566.9,163.5 613.6,137.0 578.5,153.8 573.6,164.5 605.7,159.6 618.7,151.9 607.9,153.1 571.1,166.9 598.3,145.8 603.3,135.1 617.1,152.5 597.4,167.3 564.0,160.3 584.1,164.2 600.8,169.2 618.4,134.9 582.5,166.9 595.3,150.0 615.4,143.0 595.8,174.5 611.8,139.1 572.4,147.1 617.1,162.2 626.3,146.5 596.6,142.1 624.8,148.9 624.2,139.1 619.3,154.6 616.7,134.2 573.2,166.3 619.1,135.4 587.6,168.4 613.0,174.4 633.0,150.5 594.7,179.7 609.1,148.7 582.9,176.8 573.0,175.6 600.3,138.4 576.4,169.9 568.8,163.6 619.9,131.0 618.0,144.5 618.0,156.1 602.7,152.1 571.8,152.7 619.2,133.2 600.3,172.4 591.9,141.5 577.9,148.7 631.1,133.9 610.7,166.9 602.5,153.3 627.6,150.7 599.0,159.6 595.1,142.0 615.2,163.0 585.4,164.3 620.2,146.5 593.5,158.9 619.1,141.0 626.3,132.5 596.2,162.8 622.2,133.0 577.3,146.2 607.7,142.1 583.4,154.2 597.8,157.5 621.2,134.8 617.6,127.4 577.9,175.1 585.6,174.7 628.3,130.7 620.2,145.1 605.6,143.3 624.2,131.3 578.7,155.6 578.2,148.5 603.6,134.8 570.1,182.7 572.6,171.1 606.3,149.0 567.4,174.4 577.9,146.8 576.7,164.8 596.1,161.3 610.5,157.7 615.9,131.4 588.7,172.2 614.5,146.7 617.0,157.8 603.9,155.3 576.5,163.9 569.9,169.7 576.7,145.2 582.1,173.8 604.7,169.9 596.9,168.9 589.0,151.6 628.3,138.6 625.6,136.4 620.5,131.6 586.4,160.7 627.5,152.2 599.1,141.5 565.4,173.2 587.6,168.8 625.4,147.4 627.8,139.2 588.2,177.6 592.3,142.5 590.0,141.0 618.8,153.6 591.5,170.9 614.1,137.1 587.7,153.4 578.2,178.4 619.3,158.6 571.4,157.9 573.8,166.0 595.3,143.2 571.2,149.4 579.1,173.0 589.6,157.5 567.9,147.0 575.0,150.2 583.3,154.6 588.6,149.0 609.4,153.1 562.7,147.0 603.2,146.6 627.4,132.5 621.0,139.7 607.5,137.3 567.5,140.8 610.3,161.1 592.3,165.4 600.3,158.0 610.4,136.5 606.1,149.4 611.1,160.1 627.6,146.6 563.8,169.3 615.6,139.4 592.1,149.0 603.4,155.8 601.1,145.9 622.9,126.4 593.4,179.0 575.6,153.5 612.4,158.5 586.9,158.5 573.8,167.5 582.4,147.6 600.6,177.7 575.1,151.5 604.9,172.2 593.0,156.6 609.1,161.1 571.8,149.6 575.2,142.1 607.8,151.3 593.7,164.9 554.2,179.6 616.8,129.0 617.8,138.2 592.4,175.0 612.8,147.9 596.1,168.7 592.4,150.9 587.3,154.6 600.2,150.4 576.5,144.5 588.2,143.2 629.4,140.8 563.3,176.3 625.3,148.0 608.3,172.5 591.2,170.2 589.7,148.8 622.7,158.4 567.5,159.4 590.7,139.3 603.4,173.8 598.8,172.4 575.2,156.3 618.4,157.3 586.8,145.6 575.5,179.8 567.9,154.9 602.9,143.7 587.8,176.4 601.3,165.5 591.4,165.5 590.7,173.7 625.4,141.6 576.4,173.4 610.9,164.3 636.4,135.3 578.9,148.5 568.1,179.2 595.4,171.0 629.6,140.6 608.3,139.5 620.3,149.3 626.2,148.2 607.2,170.2 571.1,173.5 617.9,161.3 617.0,162.1 597.7,166.6 620.3,157.3 598.4,150.8 607.2,157.2 575.8,165.4 631.8,137.2 611.5,131.8 599.4,177.3 619.0,157.6 595.4,153.9 580.6,168.6 589.6,169.2 611.9,166.3 627.8,146.2 609.9,152.0 623.6,141.4 599.8,167.8 614.4,132.3 574.6,157.9 597.8,148.5 565.9,161.6 583.0,164.7 564.4,153.2 579.9,148.5 604.3,137.0 618.4,157.2 557.7,175.5 581.3,154.9 569.7,159.5 567.6,153.6 589.8,143.8 580.0,156.3 592.3,162.0 597.8,156.2 608.9,161.2 593.8,146.2 591.8,142.5 623.8,151.2 583.8,167.2 574.8,170.5 578.6,163.4 600.2,178.0 619.4,141.6 589.4,149.8 586.3,168.5 594.0,172.4 580.5,157.8 593.0,168.4 583.3,174.3 620.3,146.5 591.5,174.8 613.0,163.7 567.3,148.7 611.9,152.4 573.8,150.4 572.6,166.8 630.4,145.5 588.1,149.2 589.4,150.1 591.6,154.8 625.7,144.5 576.3,167.9 607.3,147.6 583.6,156.0 618.2,136.5 599.6,161.6 593.7,149.5 600.0,156.5 588.1,162.6 594.9,137.3 630.5,134.7 625.0,151.0 583.4,163.8 590.1,151.2 594.0,150.5 618.1,147.4 576.1,177.0 598.2,148.9 583.3,155.4 593.1,154.6 603.7,167.6 628.5,136.1 600.3,147.2 583.4,166.1 614.6,157.4 615.1,142.8 620.3,141.5 571.5,147.2 608.8,128.6 595.0,160.8 570.8,154.3 599.5,144.7 569.8,162.6 623.4,142.0 630.6,129.7 580.7,168.4 591.3,144.8 595.7,166.3 623.1,148.6 577.1,178.9 552.9,177.2 570.5,169.3 599.7,141.4 582.7,169.3 603.7,167.1 583.0,170.2 590.7,154.3 573.5,149.5 619.2,145.5 579.6,175.9 594.4,167.1 597.7,178.3 579.1,169.7 575.1,161.1 587.1,164.8 616.5,147.2 567.9,167.5 611.4,166.4 587.8,145.1 601.8,147.8 602.9,165.6 597.5,142.2 605.4,150.2 592.5,161.7 609.2,162.1 596.5,149.3 594.7,175.2 606.4,143.2 590.0,167.5 607.5,134.0 631.7,136.9 615.7,151.0 569.7,155.8 600.2,153.2 601.2,159.4 607.5,143.7 607.6,144.9 594.8,150.1 621.9,143.8 565.0,172.2 573.6,177.1 593.4,166.8 594.0,149.8 593.9,144.1 630.2,143.7 575.6,146.8 593.0,173.7 579.2,148.1 612.0,158.4 610.1,138.7 598.0,153.8 624.7,138.0 615.5,153.8 597.0,144.5 593.7,149.6 618.9,153.8 589.7,169.1 616.3,148.9 598.6,144.2 625.4,137.9 599.8,149.0 608.8,155.1 614.8,159.2 578.8,156.7 594.5,178.0 611.7,131.9 586.5,170.3 613.5,143.4 589.5,168.9 604.3,156.6 619.8,157.9 593.5,172.8 587.1,165.0 609.6,132.1 566.7,151.8 600.3,176.2 599.6,167.6 567.2,165.8 580.6,153.3 590.8,148.5 611.3,168.6 609.5,137.2 568.6,169.0 604.2,138.7 580.8,150.6 569.7,164.8 623.4,146.7 624.7,131.9 574.0,162.5 613.5,138.6 608.0,155.6 578.5,167.1 626.5,136.3 575.3,166.6 634.7,141.1 563.9,174.0 602.2,142.4 599.7,153.9 608.4,141.1 619.0,140.5 585.6,151.2 565.8,167.0 581.3,148.7 581.7,151.0 598.6,174.8 592.2,162.5 603.0,154.9 565.8,152.3 574.4,153.3 583.7,170.2 615.5,131.6 584.3,163.5 618.6,142.2 603.7,142.5 573.0,183.2 565.9,168.4 624.8,155.1 583.8,149.5 586.8,146.8 622.9,141.7 618.8,164.1 565.9,140.8 590.4,151.9 592.8,172.3 605.6,161.4 618.9,129.0 601.5,168.2 586.5,154.1 603.4,143.4 624.3,155.5 616.8,138.5 613.9,141.4 579.9,143.0 605.5,167.8 573.0,175.5 572.0,160.1 583.9,176.0 613.7,141.2 598.3,168.0 613.5,158.2 570.6,169.4 580.8,146.8 593.8,151.8 595.8,173.5 563.0,168.1 611.8,169.8 624.2,129.7 604.3,133.4 594.1,158.2 567.1,157.8 570.9,148.9 580.4,148.8 584.0,168.7 603.4,157.6 606.5,129.9 609.8,164.6 606.5,133.5 582.7,158.5 618.9,133.9 631.1,136.8 585.5,173.6 622.0,132.8 615.8,134.6 573.8,175.4 597.8,169.3 611.2,160.8 591.8,147.7 613.2,132.7 564.0,158.1 591.2,161.5 584.7,145.4 576.4,171.6 601.7,142.5 606.6,171.4 587.7,161.8 615.1,137.8 593.6,174.0 575.7,178.0 605.6,165.3 591.4,158.8 614.0,165.7 601.0,173.5 628.3,130.3 621.2,143.5 622.5,140.5 619.5,153.8 591.6,149.8 595.3,175.8 570.8,165.8 601.2,173.6 604.0,168.9 619.3,136.8 621.2,157.6 587.7,145.4 568.6,144.6 601.5,142.5 571.0,165.6 618.0,157.5 616.0,154.5 608.9,157.8 617.2,149.3 570.3,173.6 564.1,155.8 622.3,139.3 618.2,137.8 563.0,158.5 590.8,175.7 566.9,161.2 587.3,165.1 621.1,127.2 610.4,167.1 571.9,147.7 622.4,145.2 587.4,153.2 610.9,144.6 588.0,159.2 569.3,165.8 565.3,168.6 594.6,163.1 548.6,179.5 624.8,134.5 568.9,169.6 567.6,144.2 589.4,144.1 624.2,144.4 615.9,142.3 616.5,140.8 568.7,151.6 607.8,160.7 595.2,150.0 601.3,146.6 581.9,164.6 565.6,158.8 591.1,138.8 596.7,163.3 606.5,159.4 609.1,179.5 598.5,140.1 605.0,134.4 618.9,149.8 605.7,130.2 571.8,163.6 574.0,153.4 578.8,146.6 594.6,141.3 565.1,156.1 595.5,141.5 594.5,153.0 588.1,168.3 624.1,145.4 583.8,147.6 615.8,135.7 606.8,135.4 565.0,156.8 581.8,165.8 594.4,167.4 610.1,167.4 574.3,150.9 595.2,165.2 625.5,133.0 622.0,140.4 571.5,162.3 636.5,132.5 597.7,152.7 586.4,140.9 596.1,156.6 586.6,159.6 581.8,155.9 601.9,158.3 633.2,127.5 632.3,136.7 625.6,150.6 613.7,150.4 580.0,163.4 612.2,124.1 626.1,121.6 618.0,138.4 590.5,169.7 627.8,140.2 576.8,169.3 615.5,149.5 577.5,157.5 568.0,160.2 579.5,155.4 600.5,154.7 571.8,145.0 626.6,151.3 589.0,174.0 568.9,174.3 599.9,140.0 615.5,149.5 567.9,166.1 599.2,153.5 578.7,157.4 582.2,159.5 609.0,137.8 582.9,153.4 566.3,180.1 587.9,156.3 561.0,150.6 575.3,161.3 603.3,147.5 612.3,134.5 620.5,150.8 621.6,133.2 633.6,131.5 571.9,152.3 626.0,129.5 566.3,169.3 591.8,139.0 591.7,175.5 587.2,165.9 618.7,162.0 585.8,153.3 576.5,149.8 575.7,151.9 576.9,173.1 603.6,163.5 574.6,175.2 597.4,174.9 604.0,163.3 568.8,164.3 591.9,154.5 561.2,150.5 606.8,156.7 610.4,133.0 575.5,171.3 608.7,135.6 591.0,157.0 624.9,150.4 589.6,153.5 607.0,166.7 630.5,145.1 621.2,141.0 606.5,168.0 572.6,172.9 563.8,174.7 613.1,161.9 604.5,140.9 595.2,183.0 571.3,149.5 599.9,169.7 572.7,153.3 607.8,168.3 576.6,153.5 601.7,173.8 600.3,174.6 590.4,168.8 593.0,163.5 578.2,159.3 586.5,147.0 612.5,153.6 571.3,172.0 626.2,130.9 610.3,148.9 608.9,169.4 625.9,134.7 604.8,150.0 585.2,164.1 581.4,149.6 563.6,167.5 593.4,156.1 620.7,133.9 588.7,169.0 599.2,157.4 574.1,173.3 597.5,151.1 623.5,138.7 601.5,154.9 572.9,160.2 587.5,172.5 595.7,171.5 627.4,137.6 577.4,158.9 577.6,150.6 569.2,150.2 585.9,155.2 581.1,157.0 559.6,161.6 580.0,161.8 597.6,167.5 567.5,161.8 591.9,177.6 595.7,149.8 635.1,139.1 578.3,155.4 599.6,146.2 593.1,170.3 604.2,161.1 596.1,164.9 618.0,153.6 598.9,164.0 613.3,143.5 590.6,154.9 571.0,150.9 589.5,164.5 585.9,165.8 612.1,139.8 584.7,146.5 591.0,159.0 579.8,165.5 614.2,152.4 613.8,158.5 607.7,139.7 576.7,150.6 604.2,178.4 607.3,143.2 604.8,162.3 564.9,147.3 575.6,160.9 575.1,149.6 610.8,135.6 602.7,171.9 599.5,164.6 574.6,167.8 585.1,163.9 621.2,144.7 566.4,173.1 603.4,139.6 589.3,172.1 597.6,139.5 603.1,173.3 573.2,160.6 593.4,168.1 573.1,176.5 575.5,178.9 573.3,160.8 606.8,160.7 591.7,152.4 569.8,172.1 609.7,168.2 606.1,159.6 619.7,159.2 618.6,134.0 588.0,177.9 597.7,146.9 566.6,179.7 612.5,161.5 565.9,176.1 577.8,149.3 581.1,170.7 571.1,162.8 587.0,159.8 601.4,149.4 588.2,157.6 561.8,162.8 628.0,145.4 610.5,134.2 596.0,176.9 571.7,163.3 578.8,171.9 568.3,167.0 595.8,171.8 602.1,155.6 613.4,166.9 613.5,160.0 609.3,154.6 623.4,126.9 595.9,182.3 594.8,165.0 570.5,166.8 624.7,149.5 598.0,160.5 593.7,162.5 578.6,160.9 606.6,163.5 592.7,142.2 628.3,149.5 581.5,151.7 599.4,175.1 569.0,147.8 587.5,151.5 570.6,162.0 606.1,162.1 586.3,171.1 583.2,164.9 611.5,169.3 602.3,158.1 570.5,148.8 615.1,140.8 608.7,153.6 627.4,158.5 568.1,155.4 622.3,134.0 606.2,168.6 608.3,161.6 629.8,145.5 599.3,167.7 563.2,154.9 589.8,143.6 564.1,160.0 600.9,158.0 608.1,130.4 582.2,166.2 582.6,157.4 569.4,169.8 604.3,141.0 594.0,149.4 569.9,159.4 599.9,137.4 587.4,169.6 623.8,140.1 615.7,135.8 594.1,156.0 622.3,129.2 617.4,138.1 566.5,144.2 628.5,151.4 592.8,137.0 576.1,146.0 566.4,165.5 612.2,140.7 581.3,163.6 565.9,169.7 601.6,144.7 588.6,173.4 589.7,169.5 573.7,175.7 566.9,175.2 605.3,139.3 579.0,149.9 610.9,147.8 593.5,145.7 615.4,147.8 598.7,147.7 568.3,169.6 587.4,151.8 590.1,151.8 605.2,165.2 615.5,147.5 553.4,176.7 577.9,164.2 563.9,156.8 628.5,135.3 565.0,172.5 603.1,170.7 623.6,153.1 595.6,174.7 614.2,146.1 591.9,167.7 597.0,148.8 579.9,164.8 560.3,156.0 603.1,168.3 613.1,144.8 590.3,165.5 591.3,159.7 622.9,132.9 604.5,168.4 577.7,171.8 567.8,159.2 621.7,144.6 566.8,155.8 620.6,154.0 569.0,161.7 618.9,154.7 581.7,171.5 566.3,168.0 616.5,136.9 620.0,147.5 572.5,176.1 593.8,145.0 585.4,176.0 601.7,133.8 566.6,175.3 566.3,174.7 594.2,155.8 612.0,138.3 592.4,148.9 587.4,161.8 575.6,165.5 572.1,158.6 627.7,148.6 595.1,177.2 622.0,136.0 582.9,180.6 587.1,176.0 605.0,168.3 589.2,152.7 585.2,154.9 610.2,153.5 601.6,143.2 616.4,138.4 618.2,131.5 612.8,132.6 606.1,145.5 572.7,171.7 610.6,147.7 591.4,143.6 619.0,143.5 606.6,163.3 584.9,164.1 595.9,159.7 627.0,131.0 620.7,138.0 580.6,149.9 615.2,130.9 577.8,184.1 595.7,177.0 572.3,148.7 588.3,145.8 618.0,151.8 617.5,133.0 603.6,155.3 585.3,162.9 564.5,153.7 584.9,141.6 608.3,135.5 587.9,147.8 606.9,158.8 570.0,149.2 614.2,163.4 628.1,133.5 598.0,152.3 616.9,135.2 577.5,181.6 612.0,137.2 587.1,175.2 567.2,166.0 570.7,163.8 614.6,136.9 594.7,146.7 598.9,157.4 622.4,157.5 630.1,147.0 608.2,143.1 571.6,145.8 599.6,168.0 611.5,150.0 587.5,146.9 596.0,149.7 601.5,139.8 614.5,137.6 615.4,135.6 608.2,156.6 574.9,146.7 597.0,156.4 565.2,156.3 611.2,135.4 601.8,168.5 569.1,151.6 606.3,145.8 607.6,137.0 624.0,140.1 601.0,149.1 603.3,169.8 606.2,158.7 630.2,156.1 593.4,151.7 590.1,170.0 608.7,167.0 574.6,151.9 627.5,134.5 625.2,144.7 600.7,164.3 628.6,141.0 593.5,167.6 617.8,160.5 612.7,132.1 596.9,146.4 594.1,141.3 617.3,157.5 601.4,164.0 599.8,140.2 585.6,144.4 594.7,162.1 569.8,143.7 596.8,159.4 624.7,144.1 597.8,172.6 578.3,146.2 620.1,158.6 565.2,168.6 600.2,147.2 587.6,175.2 580.6,157.1 597.2,176.0 583.5,177.3 581.4,165.6 582.7,149.8 583.5,159.9 618.7,144.6 590.2,172.2 607.3,175.5 575.5,159.7 580.5,164.3 621.1,168.9 596.9,139.6 593.7,175.1 613.6,146.4 594.4,161.8 614.7,148.2 607.3,146.1 577.7,155.8 582.6,148.9 605.2,141.3 603.6,162.1 616.5,138.4 603.0,157.7 570.1,164.1 588.8,167.4 579.0,165.5 628.7,133.6 595.6,146.7 630.2,143.5 571.3,149.3 590.8,140.7 591.3,140.1 582.4,165.4 599.7,177.3 616.7,147.6 568.6,162.5 584.1,171.7 604.7,142.6 612.5,150.1 632.4,143.7 623.8,141.5 589.6,166.5 613.7,162.9 597.4,175.0 597.3,157.4 632.2,130.0 587.9,156.6 587.0,150.8 626.6,143.5 569.1,164.8 610.2,140.1 603.8,166.0 612.3,148.0 602.8,171.0 627.3,143.8 595.8,150.0 599.8,174.0 598.8,143.2 580.0,164.5 582.3,169.6 590.0,145.6 561.1,155.3 619.9,165.4 573.6,153.6 595.8,175.6 588.2,169.8 605.6,142.7 622.3,134.4 591.2,164.5 593.4,158.4 624.0,130.3 602.2,158.0 604.5,142.9 611.2,141.6 595.0,144.5 623.4,137.7 597.6,171.9 592.6,153.1 598.1,151.0 593.3,163.5 604.8,141.3 609.0,167.3 576.3,149.6 616.3,153.7 627.7,135.6 603.3,150.8 586.8,158.0 581.1,171.7 564.0,173.6 572.8,174.5 563.6,174.9 574.6,146.7 619.3,142.6 564.9,148.5 576.2,157.7 614.1,158.6 579.4,154.3 591.8,143.5 575.0,167.5 603.0,148.1 580.6,150.5 596.8,145.6 608.8,167.6 575.0,164.8 578.9,142.0 599.6,138.2 601.3,149.9 606.2,140.7 588.8,145.0 611.2,163.9 608.4,167.1 567.4,173.2 561.9,174.6 591.4,174.8 564.4,154.7 597.1,172.0 624.0,134.5 600.3,145.1 618.7,152.8 608.7,140.4 614.3,160.3 582.8,170.7 592.9,139.0 598.3,137.1 617.8,137.5 592.0,150.6 579.6,158.5 570.5,157.9 603.8,170.7 588.4,148.1 613.5,134.7 607.9,168.3 575.1,173.2 591.3,170.2 615.2,137.8 584.8,181.3 583.4,176.0 583.6,162.2 600.4,139.4 587.2,152.0 586.1,159.1 582.7,173.9 589.0,173.9 625.4,123.2 604.0,156.7 601.5,173.7 608.1,147.5 630.4,137.7 630.4,137.7 588.5,152.5 618.7,145.0 624.9,160.0 599.1,146.8 598.2,168.0 609.3,163.2 580.9,155.5 613.6,133.6 601.7,153.4 567.8,164.5 609.3,146.9 585.7,139.0 586.9,167.7 595.2,141.6 576.6,175.5 566.2,149.4 585.4,169.9 585.7,144.0 621.1,151.1 596.1,148.1 598.0,164.6 572.1,158.2 626.2,145.7 573.9,173.0 592.9,170.7 590.7,168.0 583.5,169.4 615.9,139.3 591.2,176.3 621.9,135.5 598.1,172.9 599.6,164.8 589.4,164.2 597.4,168.3 614.7,146.0 596.6,175.1 589.6,158.7 589.2,160.8 567.4,166.4 604.9,153.9 587.5,150.0 580.0,167.5 621.0,143.1 579.8,160.6 578.0,156.4 628.4,140.2 620.4,149.9 629.9,136.9 623.6,130.8 604.6,158.7 577.3,175.4 588.3,163.3 576.6,172.4 601.9,161.5 599.7,156.4 597.8,153.3 577.4,153.2 573.7,161.9 583.6,163.3 599.7,168.9 569.6,147.6 597.4,162.7 588.8,156.6 608.5,175.0 616.9,166.5 613.0,166.2 572.2,152.8 604.2,149.0 587.0,171.3 582.2,147.0 605.3,145.3 560.9,159.4 596.6,167.4 616.6,160.4 592.2,152.7 575.2,148.9 628.6,130.8 610.4,154.0 567.9,168.2 593.6,167.6 568.7,180.2 620.6,135.2 575.2,161.4 606.0,169.9 614.7,161.5 576.7,154.5 608.6,146.8 612.9,178.7 584.9,175.9 564.5,162.3 628.0,133.0 608.5,133.6 598.5,167.9 570.4,169.7 566.8,148.8 607.3,139.4 615.8,156.4 580.5,169.2 594.3,162.1 596.2,157.2 618.9,138.0 583.0,170.5 624.6,133.6 594.5,160.9 561.3,161.0 587.9,174.2 607.3,166.4 596.7,171.9 587.9,152.8 616.8,165.8 617.4,135.5 607.4,138.2 571.1,155.1 603.8,169.6 618.7,144.9 618.1,132.7 563.3,157.2 600.8,175.1 633.3,140.2 607.8,131.2 574.3,160.8 601.6,141.6 609.7,146.1 603.8,142.6 602.9,169.9 569.8,160.4 608.6,163.2 609.8,162.7 591.1,156.3 583.8,156.2 601.5,138.7 608.7,133.3 615.5,138.2 625.7,133.2 611.1,161.6 610.9,145.9 580.6,163.2 610.6,160.0 614.8,158.2 582.6,171.5 593.1,150.1 580.9,165.4 582.1,145.0 582.4,165.7 611.5,144.6 598.0,161.0 594.8,142.9 590.7,181.6 594.3,162.9 597.2,164.1 590.1,176.5 574.2,171.7 608.1,162.9 621.5,153.5 591.7,138.9 610.0,134.2 604.2,158.1 605.7,164.8 579.7,165.6 629.1,136.7 623.1,146.5 607.8,133.6 615.2,167.9 573.5,151.5 607.9,137.2 606.7,150.7 592.9,157.7 579.3,169.4 630.5,123.4 592.7,165.1 604.0,146.4 577.2,143.7 589.3,169.1 569.7,160.8 626.1,158.0 600.5,138.6 601.2,171.7 589.6,155.1 622.9,149.5 610.2,173.1 603.3,161.2 624.8,152.6 623.0,139.5 614.1,151.0 587.0,162.1 571.4,142.1 584.7,164.9 622.5,134.0 625.3,143.0 559.1,150.7 620.0,142.9 592.8,173.4 584.2,144.5 582.3,144.4 615.7,140.9 579.7,163.3 616.1,145.0 572.2,179.6 613.6,166.5 572.1,171.2 626.9,150.3 629.0,144.1 569.2,175.2 602.8,164.2 569.1,170.2 576.3,146.0 607.3,157.1 605.1,157.6 566.7,155.9 589.5,149.5 599.7,179.8 594.1,136.9 611.1,160.3 613.0,158.1 573.0,172.7 574.1,144.5 606.1,139.7 611.7,145.4 605.8,148.5 593.8,176.6 581.3,175.6 573.3,165.9 609.5,158.5 587.5,166.8 600.8,181.9 576.2,156.2 569.2,148.7 611.1,146.8 576.4,171.6 610.5,163.0 621.6,126.2 592.0,175.7 612.7,163.8 626.1,130.5 582.6,145.4 604.1,154.8 615.1,162.0 598.5,155.8 606.4,170.7 591.9,150.7 607.5,138.1 627.5,143.9 633.3,142.3 581.9,176.2 574.6,176.1 625.1,123.0 607.3,164.6 597.7,159.9 581.1,143.6 593.7,162.7 615.6,153.7 586.1,172.6 606.5,131.8 608.7,160.9 602.7,174.1 568.8,178.1 605.0,152.4 619.0,150.4 608.4,142.5 578.9,150.5 572.7,175.0 630.4,149.2 601.9,167.6 597.4,155.6 595.7,173.0 610.9,144.7 581.2,155.0 608.5,167.0 610.2,150.5 585.7,171.5 570.9,150.2 574.0,160.6 604.4,139.4 608.0,143.6 623.6,144.2 597.8,172.1 624.4,138.0 596.4,143.4 577.1,154.4 602.7,132.4 591.8,155.5 583.8,143.9 588.2,168.1 597.2,177.3 590.9,169.9 570.3,150.7 582.1,143.0 578.9,165.6 610.3,153.5 568.7,162.7 607.8,141.1 572.4,160.6 601.1,149.5 607.0,154.6 607.4,130.2 592.5,147.5 606.6,164.7 594.5,179.3 591.3,166.9 567.1,162.9 610.3,163.9 597.7,161.4 611.2,164.3 598.5,146.0 576.3,151.7 605.2,165.5 584.1,149.3 595.9,169.1 566.3,168.0 571.2,166.8 607.5,164.6 620.2,132.4 573.2,145.7 612.6,166.2 580.0,168.9 607.1,142.0 612.1,155.1 606.7,160.7 589.0,177.8 591.3,147.8 609.4,154.5 586.2,149.4 602.9,167.7 622.3,147.9 594.6,173.2 613.0,137.7 577.2,166.9 619.7,145.4 619.4,127.7 618.2,164.2 582.4,157.3 556.5,176.6 594.4,156.1 591.4,144.9 584.7,158.1 571.1,173.4 618.0,159.6 614.2,166.5 600.5,154.6 596.6,167.5 600.1,165.2 522.4,159.0 525.1,158.1 527.7,157.5 529.9,157.0 532.9,155.5 535.9,156.0 538.8,155.5 542.6,152.6 544.0,154.8 547.0,153.3 548.5,156.3 551.5,154.0 554.5,152.6 556.7,153.3 559.7,151.8 531.4,156.6 534.4,155.7 537.3,155.8 541.1,154.0 545.5,154.0 550.0,154.8 553.0,153.6 556.0,154.8 558.2,154.0 540.3,154.8 553.7,154.8 550.7,153.0 537.3,167.9 540.3,166.7 542.6,166.0 544.8,166.0 547.0,164.9 550.0,164.5 553.0,164.0 556.0,163.0 558.2,160.7 550.0,170.4 553.7,168.9 539.6,167.3 548.5,165.2 551.5,164.2 554.9,163.7 557.4,162.5 558.9,164.0 552.2,166.4 556.7,166.0 558.9,167.4 553.0,176.8 548.3,176.8 554.6,175.6 539.1,177.4 556.6,174.5 540.9,179.3 553.1,176.1 541.7,178.3 553.4,177.5 542.0,178.9 545.9,176.3 549.5,178.0 542.2,180.5 548.9,173.7 556.0,175.1 552.2,176.6 543.0,178.2 538.9,180.2 554.9,176.4 558.3,176.4 539.7,181.1 553.4,175.6 544.4,179.3 554.4,176.9 550.6,177.6 553.2,176.4 543.6,179.2 555.7,176.9 546.6,177.6 537.2,177.0 549.1,177.0 542.5,178.0 553.5,173.4 550.9,176.1 556.4,174.5 552.4,178.6 551.8,178.3 540.3,180.4 539.1,178.7 550.7,175.8 535.9,181.6 538.1,177.1 539.6,179.4 541.8,174.9 544.0,173.4 544.2,178.0 548.4,174.4 556.6,172.7 551.3,173.8 547.7,174.7 556.5,172.3 551.2,173.9 547.0,176.5 556.5,172.4 559.0,173.1 547.1,175.7 557.2,170.4 558.2,173.9 548.4,174.4 555.6,172.8 548.4,173.6 560.0,171.2 556.1,173.1 547.8,174.3 558.2,173.2 552.6,173.0 548.9,175.3 558.3,180.8 553.0,181.3 540.9,181.6 539.7,183.0 547.9,181.8 558.5,182.2 543.1,181.8 540.8,181.1 543.1,181.4 547.7,180.6 542.2,182.1 549.1,182.5 557.4,180.8 541.7,181.3 544.0,181.4 551.0,180.5 542.0,182.5 546.2,181.1 545.7,181.2 550.5,181.6 555.2,181.5 555.9,180.9 532.1,183.5 560.4,186.1 567.1,184.6 569.4,186.8 572.3,186.1 577.6,187.9 583.5,183.8 584.3,186.1 561.2,144.4 586.0,133.5 584.5,136.1 606.5,122.7 616.5,123.4 621.0,121.6 635.1,124.9 639.6,129.1 636.3,134.6 635.9,141.3 639.9,146.2 634.4,149.2 631.4,156.9 629.9,163.2 623.9,168.8 632.1,117.5 560.2,186.2 567.5,184.6 569.7,186.5 573.4,185.8 577.7,188.0 585.0,185.8 588.7,184.7 596.7,185.0 600.4,184.3 606.2,182.8 611.3,180.7 623.7,168.7 630.0,163.1 631.3,156.6" fill="none" stroke="none" marker-start="url(#m)" marker-mid="url(#m)" marker-end="url(#m)"/>
<path d="M613.75 127.55l6.1 6.1M613.75 133.65l6.1 -6.1" stroke="#f28e2b" stroke-width="1.45" fill="none"/>
<rect x="499.45" y="24.45" width="185.15" height="184.90" fill="none" stroke="#3c3c3c" stroke-width="0.8"/>
<path d="M502.50 209.35v4.3M540.83 209.35v4.3M579.16 209.35v4.3M617.49 209.35v4.3M655.82 209.35v4.3M499.45 204.30h-4.3M499.45 147.75h-4.3M499.45 91.20h-4.3M499.45 34.65h-4.3" stroke="#3c3c3c" stroke-width="0.8" fill="none"/>
<text x="502.50" y="224.00" font-size="13" text-anchor="middle" fill="#000">0.5</text>
<text x="540.83" y="224.00" font-size="13" text-anchor="middle" fill="#000">0.6</text>
<text x="579.16" y="224.00" font-size="13" text-anchor="middle" fill="#000">0.7</text>
<text x="617.49" y="224.00" font-size="13" text-anchor="middle" fill="#000">0.8</text>
<text x="655.82" y="224.00" font-size="13" text-anchor="middle" fill="#000">0.9</text>
<text transform="translate(490.75 204.30) rotate(-90)" font-size="13" text-anchor="middle" fill="#000">0</text>
<text transform="translate(490.75 147.75) rotate(-90)" font-size="13" text-anchor="middle" fill="#000">5</text>
<text transform="translate(490.75 91.20) rotate(-90)" font-size="13" text-anchor="middle" fill="#000">10</text>
<text transform="translate(490.75 34.65) rotate(-90)" font-size="13" text-anchor="middle" fill="#000">15</text>
<text transform="translate(592.95 238.70) scale(0.86 1)" font-size="11.6" font-style="italic" text-anchor="middle" fill="#000" stroke="#000" stroke-width="0.35">T</text>
<text transform="translate(475.25 116.25) rotate(-90)" font-size="17" font-style="italic" text-anchor="middle" fill="#000" stroke="#000" stroke-width="0.15">d</text>
<text x="473.85" y="14.35" font-size="18.3" fill="#000"><tspan font-size="20">(</tspan><tspan dx="0.14">c</tspan><tspan font-size="20" dx="-0.33">)</tspan></text>
<g stroke="#d6d6d6" stroke-width="0.9" stroke-dasharray="2.2 2.13" fill="none"><path d="M36.05 342.55H222.10"/><path d="M172.00 442.25V255.50"/></g>
<polyline points="115.7,401.8 128.0,398.6 155.9,366.5 162.7,353.4 131.7,403.0 120.5,385.3 129.8,404.3 159.4,365.8 108.5,400.4 121.9,396.2 136.4,403.5 149.1,375.2 151.8,400.4 147.5,402.0 118.0,392.0 138.5,384.9 139.3,378.8 143.2,385.5 132.9,383.1 116.7,380.2 148.0,355.7 149.0,399.6 148.6,379.1 121.6,391.1 131.9,384.6 165.5,374.6 161.4,381.9 170.2,371.6 86.6,407.5 170.5,363.3 165.6,377.3 147.8,367.1 159.6,366.1 106.8,399.5 146.9,375.7 119.7,381.1 119.2,391.9 147.3,383.9 126.2,396.6 143.0,373.7 124.5,394.1 117.5,401.5 164.0,366.8 153.7,375.3 151.0,365.5 170.6,363.9 132.5,392.8 158.5,379.0 106.2,389.1 117.6,400.9 152.8,391.5 127.8,391.8 156.0,378.0 152.2,376.9 154.4,375.1 146.2,381.4 136.4,372.6 119.2,389.1 127.4,370.4 122.4,402.6 156.2,358.2 158.3,358.5 170.4,358.1 139.7,390.9 148.9,372.6 169.0,373.2 150.3,394.7 113.3,386.0 160.7,369.8 154.7,362.1 156.1,388.7 114.5,380.8 167.8,376.5 174.6,367.4 127.3,369.0 146.1,392.5 160.7,352.2 167.2,379.2 142.7,398.9 128.1,374.5 157.7,393.8 164.4,369.1 141.8,397.2 163.9,382.9 159.9,370.9 144.4,399.6 151.7,379.4 169.2,369.8 145.7,359.4 137.3,388.6 159.9,386.3 161.0,371.9 164.1,358.1 178.7,355.5 109.7,396.1 153.7,376.9 106.0,387.5 122.1,379.7 132.6,400.5 139.4,367.2 139.2,394.5 151.4,379.5 123.1,386.2 140.2,390.0 147.1,391.0 164.2,358.8 98.6,406.9 150.8,391.6 129.5,365.7 157.7,383.1 155.7,354.7 172.6,359.2 162.3,385.1 141.7,388.7 144.5,375.4 111.7,394.2 158.3,365.4 152.3,387.5 148.6,393.4 104.9,410.1 170.5,357.0 123.3,388.6 160.8,388.1 163.3,366.2 108.8,401.0 150.8,385.6 164.5,380.0 134.0,396.6 145.6,366.2 141.2,379.3 113.2,383.1 115.8,405.6 149.4,394.7 128.2,384.4 155.0,374.6 141.6,380.1 162.0,383.6 98.8,407.1 159.6,365.7 114.7,388.6 157.0,366.7 133.4,394.0 112.1,392.4 142.1,389.9 140.4,394.6 134.0,387.5 147.1,393.1 121.3,402.1 171.6,381.7 139.7,398.1 165.8,360.3 125.9,397.8 164.7,376.8 134.0,404.8 159.3,363.5 111.6,403.2 124.5,408.5 148.4,369.6 140.6,402.1 163.5,368.6 120.9,378.0 161.5,386.5 159.0,358.2 108.8,384.9 135.3,384.4 125.4,390.8 145.4,375.5 149.8,373.9 153.9,390.4 110.7,378.2 163.5,354.0 155.3,388.3 141.4,380.6 122.2,380.7 139.0,368.3 122.4,381.2 150.2,385.0 162.6,349.4 116.3,384.9 129.8,381.4 103.1,406.1 121.6,384.0 161.9,360.6 161.6,382.6 130.9,382.4 141.4,397.9 131.3,396.6 166.1,359.6 130.6,406.2 156.7,368.1 117.4,390.5 138.2,381.3 163.7,367.7 151.5,376.0 150.1,380.5 124.3,398.2 165.1,375.5 147.0,400.2 157.1,391.5 133.3,399.7 130.3,399.1 124.6,402.3 131.0,385.2 159.0,389.2 155.1,398.2 166.6,358.7 165.6,353.3 147.3,365.6 152.9,368.0 162.0,353.8 166.5,371.1 113.0,403.3 120.2,385.0 152.1,391.0 117.0,379.3 140.4,387.2 159.9,382.2 166.4,370.3 167.0,370.3 153.5,395.4 142.4,365.0 139.1,389.7 161.6,358.3 148.5,398.2 144.0,399.4 152.6,368.8 162.1,345.2 133.1,379.4 158.0,382.5 142.1,363.8 148.3,399.2 157.7,362.5 138.2,389.8 107.2,409.6 164.3,355.4 158.9,374.2 127.7,395.4 125.9,379.4 139.1,399.8 168.7,368.4 144.7,363.7 144.2,397.9 149.4,388.4 125.8,383.8 121.8,379.3 155.0,364.6 144.6,393.0 145.8,369.0 117.0,380.5 160.6,383.1 112.1,394.6 113.6,372.1 101.5,406.7 127.3,372.7 119.6,402.9 166.4,377.8 133.1,398.0 172.1,360.1 115.0,392.3 136.8,398.5 140.5,408.5 143.3,402.5 139.3,369.8 159.7,357.1 150.7,375.2 160.3,365.6 165.7,371.9 156.2,364.2 130.2,403.8 119.0,380.2 125.1,388.3 158.3,364.5 150.4,399.9 137.0,386.9 175.9,374.4 150.8,375.6 169.0,378.3 168.3,365.9 110.5,399.1 169.7,379.5 133.7,375.5 154.0,384.3 147.8,383.1 149.1,382.0 117.2,401.7 150.4,382.1 171.0,361.7 154.2,374.1 130.9,386.5 149.8,378.4 125.5,384.4 142.6,387.8 128.0,384.4 158.4,385.2 112.5,402.6 141.8,364.3 117.6,384.5 125.3,390.6 166.1,363.8 156.9,392.3 124.3,388.1 165.7,380.2 157.2,372.9 136.2,382.8 165.5,358.8 161.4,356.7 151.9,358.9 168.4,371.3 133.4,401.1 107.7,398.2 122.0,378.8 161.5,358.8 140.9,380.0 162.6,355.5 116.9,391.9 159.2,369.1 160.7,388.0 173.5,357.3 110.1,384.8 153.0,365.6 142.9,371.9 159.0,368.9 170.0,375.9 155.9,369.0 122.4,405.8 132.2,372.5 153.6,396.8 162.6,386.1 172.2,355.1 147.6,372.1 151.2,385.6 141.3,375.1 141.9,394.6 140.7,384.8 178.0,362.0 175.7,353.4 143.3,375.6 127.3,379.4 145.0,384.3 152.6,379.4 123.6,378.6 165.1,356.6 168.7,369.6 105.6,401.7 149.8,399.1 147.2,386.1 154.1,390.4 126.9,389.1 167.2,380.2 159.8,374.2 145.0,380.4 148.0,389.5 156.0,394.6 163.2,377.7 124.0,401.9 150.9,396.1 148.9,364.4 140.6,400.3 150.6,395.3 170.2,355.7 147.3,370.0 124.8,385.9 144.4,366.1 129.6,399.7 105.7,393.6 138.7,393.8 161.0,355.3 135.4,396.4 107.9,400.6 143.6,358.2 127.7,379.9 132.4,375.3 165.9,358.3 122.6,379.9 136.4,399.8 119.5,390.5 114.3,397.4 152.1,370.9 150.7,358.7 169.6,371.6 133.9,386.5 128.4,392.3 169.2,361.0 148.2,370.9 117.0,376.8 161.0,358.6 157.5,370.4 156.9,369.1 160.7,353.6 140.6,370.7 120.2,395.4 165.5,380.5 152.1,380.2 144.8,367.3 137.2,376.6 117.2,402.3 122.4,395.3 147.7,377.9 156.7,364.4 144.4,369.7 132.1,372.1 172.5,370.0 121.6,386.8 131.2,392.7 164.8,362.4 162.6,361.9 143.7,379.7 150.9,396.9 127.8,378.0 116.9,392.6 154.4,364.8 168.1,369.9 110.0,406.5 173.5,357.9 155.3,384.7 146.4,377.9 160.0,370.1 154.1,391.3 160.4,361.0 140.8,380.2 133.8,380.6 170.3,387.7 125.7,392.8 142.7,383.8 126.8,409.3 149.8,366.6 177.0,361.4 119.1,379.5 124.6,384.1 177.4,353.7 130.8,404.5 162.8,369.0 120.1,400.7 141.4,384.0 150.6,361.6 135.8,394.4 111.7,395.4 117.5,400.6 128.0,400.7 160.5,386.4 162.9,380.7 132.4,388.3 106.4,401.8 138.7,401.7 154.7,371.3 117.8,395.1 157.1,354.9 122.9,378.3 112.4,401.8 157.9,369.2 143.2,399.8 113.7,395.2 163.1,384.3 160.5,369.4 138.1,375.1 134.2,382.4 141.3,376.0 130.1,400.7 143.2,372.8 145.7,401.2 160.6,364.3 111.0,385.0 111.6,396.1 157.4,367.6 158.8,372.5 157.8,365.8 115.6,398.9 138.7,401.1 132.5,391.5 105.5,397.8 111.3,382.5 154.7,372.2 146.9,369.8 85.5,405.5 136.3,377.1 120.4,401.1 158.5,392.1 165.1,384.3 164.4,380.0 154.7,360.1 126.2,392.1 148.6,398.1 125.4,398.3 161.3,380.6 142.2,367.0 122.2,377.2 153.5,390.6 115.6,389.0 129.7,379.5 164.6,354.4 167.1,377.8 150.9,393.6 151.4,367.6 111.1,398.7 164.0,368.7 105.4,395.8 134.4,384.0 129.1,397.5 163.5,378.7 137.3,401.6 109.1,396.5 126.0,406.7 170.5,356.6 153.3,381.5 132.7,396.0 149.6,364.2 163.0,372.2 170.4,350.4 174.1,353.8 126.5,371.0 143.8,371.6 167.8,385.1 129.9,401.9 166.2,371.3 131.4,383.8 155.6,369.9 141.0,392.9 154.0,373.9 154.6,387.7 118.5,398.3 146.7,383.7 134.9,392.0 149.3,362.8 148.6,383.9 140.1,371.8 166.1,376.3 146.8,381.3 157.4,388.1 106.7,397.1 166.4,367.1 134.9,380.7 138.5,399.9 167.4,374.0 148.7,374.0 129.6,373.4 135.9,390.0 141.0,386.9 135.5,380.2 130.0,394.9 141.9,394.2 134.9,375.2 123.1,376.5 160.4,361.5 116.6,408.8 170.3,357.9 157.4,381.0 151.9,371.9 144.4,390.1 134.0,375.3 146.7,390.9 85.5,409.9 139.7,381.0 123.3,408.0 164.2,381.4 146.2,387.6 140.7,384.8 128.9,380.6 165.0,353.8 106.3,394.8 139.8,385.9 131.2,374.7 118.4,388.0 120.2,374.2 123.5,391.0 122.8,390.5 152.6,386.7 149.0,384.0 128.1,402.1 132.2,398.4 115.3,405.3 169.5,356.3 146.3,384.4 116.2,378.6 142.9,369.0 142.9,386.9 169.6,359.6 159.4,361.4 137.6,402.6 168.8,369.6 131.8,386.0 120.4,395.4 153.7,378.6 149.6,384.0 122.3,403.0 110.3,399.5 161.1,373.7 121.3,370.7 153.3,364.2 143.2,374.7 144.9,384.7 144.9,392.3 150.1,375.2 155.6,390.2 137.4,382.0 146.7,402.9 150.4,370.0 139.6,392.5 144.9,359.4 120.2,391.6 153.8,365.8 176.1,372.5 146.3,379.9 150.2,401.2 135.3,386.0 145.3,387.1 162.8,370.8 144.4,399.1 154.2,388.4 139.0,369.3 132.3,374.4 147.8,373.9 127.0,374.3 153.9,383.4 128.6,398.1 161.9,374.0 140.0,370.2 150.5,399.7 119.3,383.2 142.2,367.9 150.2,365.9 110.8,394.0 137.8,384.3 127.1,376.2 147.5,387.8 151.8,390.6 129.3,380.6 141.0,378.4 159.2,391.3 107.5,398.4 136.3,381.2 128.5,401.9 145.5,379.6 137.6,373.4 133.9,373.9 137.5,407.6 125.1,386.5 161.7,365.3 144.2,380.8 147.2,377.5 150.2,378.3 153.7,391.4 162.9,373.1 121.0,381.9 169.8,357.3 162.3,376.7 139.4,371.5 135.2,374.8 140.1,390.9 173.8,357.4 139.3,399.0 125.7,396.5 120.9,382.4 142.6,380.6 146.9,394.3 159.5,356.7 160.8,362.2 139.4,399.0 149.5,360.3 175.2,369.6 178.6,354.6 128.9,407.4 136.2,381.6 125.9,404.1 163.0,382.5 108.2,399.1 147.0,362.7 157.4,399.0 117.6,393.8 132.9,390.9 151.9,382.9 132.4,395.4 140.6,387.8 112.4,401.9 174.8,356.4 139.9,401.1 147.5,370.5 157.6,386.2 163.1,368.6 141.4,378.7 121.0,387.9 168.5,356.2 148.3,378.0 159.9,386.7 130.9,381.0 113.5,384.5 155.3,372.6 131.5,403.8 150.6,391.1 154.9,377.0 134.1,398.6 167.7,366.1 158.0,377.4 130.6,391.1 138.1,392.1 146.3,366.8 113.5,387.3 109.3,393.3 174.4,360.1 149.5,369.0 136.5,382.1 158.0,375.3 166.7,354.2 166.4,375.0 161.4,382.8 167.4,361.2 135.4,398.3 121.5,401.6 134.5,390.5 141.9,373.3 138.4,384.6 125.2,386.2 162.7,367.2 131.5,369.2 151.4,372.0 95.1,406.8 153.7,402.8 108.9,399.8 144.7,378.6 139.1,387.5 117.5,383.4 158.3,358.0 167.0,352.8 128.2,399.7 136.1,384.7 150.4,367.9 160.0,376.1 143.2,390.7 173.8,370.8 122.7,379.3 164.9,349.8 124.1,379.8 131.4,388.1 147.0,392.0 168.0,378.1 140.4,394.9 109.8,402.3 109.3,394.0 132.7,404.3 119.4,374.2 108.7,386.7 162.3,359.3 164.1,377.7 130.4,379.5 157.0,391.3 137.4,371.5 127.2,378.0 173.0,357.1 109.7,390.8 158.9,382.4 144.0,399.4 129.3,398.3 161.2,361.6 115.6,386.4 166.7,374.3 123.3,378.8 161.1,370.8 124.3,383.6 128.2,400.2 141.0,366.7 151.3,376.3 113.3,385.0 116.5,372.6 137.3,395.5 115.8,394.1 139.7,391.8 159.2,372.6 155.0,402.4 162.1,364.8 155.6,374.4 144.4,379.2 155.4,394.9 166.5,357.3 150.4,399.5 160.5,379.1 169.4,368.7 150.0,362.4 157.1,375.3 162.7,372.0 173.0,369.3 164.0,377.1 122.4,393.8 140.0,405.9 126.6,370.6 116.6,383.0 178.1,364.9 158.7,357.0 123.7,376.2 146.6,388.4 152.1,365.5 135.4,380.1 113.3,373.6 162.0,365.4 118.6,384.6 119.4,404.6 125.0,375.4 153.6,378.1 152.2,391.7 107.8,391.1 138.3,401.3 158.3,370.0 113.6,395.4 154.7,367.6 123.1,403.0 159.6,373.3 132.6,388.1 119.1,399.8 148.9,372.1 166.9,371.4 101.6,405.6 129.0,393.6 124.4,404.7 164.6,363.6 148.1,389.5 113.1,397.3 161.6,382.5 171.6,351.5 161.1,366.6 158.4,389.0 104.8,410.0 125.8,387.3 174.2,361.3 117.3,389.9 155.1,373.6 134.7,381.5 123.2,399.5 162.9,373.1 129.7,393.7 126.3,376.8 129.0,396.1 163.4,363.3 137.8,383.7 119.8,389.4 137.8,398.0 131.4,402.2 119.9,385.0 152.0,397.1 147.9,394.9 120.9,381.5 143.4,379.2 162.8,386.7 123.7,367.4 152.2,380.3 163.1,362.3 159.4,375.6 170.4,388.1 164.6,361.6 149.7,396.8 134.9,386.6 152.8,390.0 124.9,376.9 109.2,401.5 144.8,374.8 153.0,392.9 144.9,377.0 109.1,395.2 161.6,367.5 128.6,373.4 127.5,386.2 161.3,382.6 155.3,380.3 155.8,364.4 150.8,387.0 135.6,381.3 155.4,364.6 155.3,395.0 136.5,407.8 148.5,371.5 157.2,390.1 121.9,398.6 124.2,399.6 116.7,397.7 162.9,367.2 137.0,385.7 163.8,379.9 155.5,362.0 167.6,377.4 147.3,394.7 172.6,371.8 143.0,371.0 133.4,392.0 126.6,382.0 128.5,380.7 134.1,400.7 157.4,390.7 156.0,363.8 120.4,371.5 121.9,398.0 159.3,368.7 155.5,394.2 128.9,392.2 126.6,392.5 134.5,387.2 161.3,363.2 144.7,399.6 95.4,411.2 171.2,357.3 115.9,390.2 167.1,384.8 156.3,364.7 118.5,382.5 149.4,374.1 137.6,393.3 139.7,367.9 141.6,394.8 147.1,375.6 154.6,384.2 167.4,367.5 147.2,389.2 125.9,386.9 160.4,383.7 153.2,379.9 122.3,380.3 162.8,380.0 103.9,403.0 151.9,372.6 170.4,361.9 117.5,372.5 153.2,383.8 168.6,385.7 151.6,389.0 144.8,403.3 108.7,386.9 122.9,405.4 127.5,393.4 140.6,370.7 117.2,394.4 169.2,372.9 152.1,380.3 152.3,392.3 136.4,392.9 124.5,374.5 129.6,379.6 135.0,372.6 146.8,366.7 164.8,372.9 149.5,372.1 163.0,372.7 141.8,381.7 128.0,398.0 128.0,400.8 150.7,383.5 158.2,377.8 121.1,383.2 127.3,386.2 128.7,406.3 132.4,387.4 109.8,392.9 144.0,377.9 116.8,386.0 105.6,411.5 115.8,403.1 172.6,360.4 147.2,402.7 150.7,396.3 130.4,395.0 138.4,385.5 161.2,351.6 101.8,403.5 139.3,407.6 165.6,353.7 96.5,405.3 157.6,395.0 121.4,384.9 164.4,363.1 167.2,356.0 116.2,383.3 113.0,393.2 127.8,377.8 168.4,375.3 129.9,405.4 141.6,371.5 105.5,392.0 125.8,397.1 131.2,382.2 168.2,376.2 132.1,401.8 167.2,376.7 178.2,358.1 149.1,370.7 156.6,384.7 137.7,387.4 160.4,368.4 142.5,394.2 149.1,390.2 175.1,366.6 150.5,366.6 129.6,376.7 154.9,387.8 162.4,364.0 122.6,400.2 140.5,398.7 155.0,365.1 110.4,395.8 131.3,376.5 161.9,367.7 145.9,395.7 159.2,375.5 149.3,379.5 92.0,406.6 130.6,377.4 135.9,370.9 159.7,376.8 159.3,364.1 129.8,391.3 157.6,371.9 152.1,394.3 141.1,374.0 154.7,373.8 108.5,403.9 132.1,398.7 135.5,370.6 150.3,374.9 151.9,381.4 145.9,377.8 150.2,399.7 126.8,392.6 152.4,399.7 156.8,384.0 113.8,389.2 139.8,399.0 132.8,402.4 141.5,404.3 157.8,365.9 116.8,385.0 154.5,370.7 126.7,376.6 165.9,380.5 136.1,393.3 126.5,375.1 118.4,377.4 114.8,383.1 145.9,377.9 171.5,357.8 123.7,376.4 167.1,361.6 123.8,407.5 161.1,383.5 115.9,381.3 130.7,387.5 143.1,388.7 141.0,392.9 164.7,353.4 155.0,369.5 171.3,353.8 142.7,401.2 120.8,390.1 120.6,397.1 152.9,372.8 136.9,399.1 172.4,356.5 148.7,373.1 162.7,374.8 155.5,375.0 147.7,378.8 124.6,388.5 162.8,374.3 154.0,396.9 167.8,354.1 164.0,393.5 169.8,368.1 115.2,396.7 118.8,385.8 164.0,372.2 112.3,388.7 108.5,390.4 132.2,388.0 160.0,382.7 145.0,368.8 151.0,370.1 144.5,389.2 162.3,364.7 163.6,383.8 162.0,359.9 143.1,386.7 147.2,382.6 117.5,393.9 164.6,377.8 153.0,364.1 159.8,353.6 145.3,391.3 123.3,399.0 118.9,386.5 148.2,392.4 155.0,378.4 134.9,391.3 133.5,403.2 106.1,402.4 109.3,401.4 127.8,389.7 149.1,393.7 150.1,365.1 138.9,379.9 116.4,398.7 152.8,388.6 139.3,394.3 116.4,390.4 135.7,373.6 112.6,410.8 115.1,390.2 119.2,396.6 168.4,361.8 174.2,365.3 130.0,381.2 143.1,368.3 150.6,363.2 147.5,378.2 170.6,354.8 162.5,377.8 160.4,388.1 155.7,389.1 138.2,390.9 139.1,380.0 120.0,392.6 119.0,378.6 122.6,396.6 133.5,391.6 149.2,399.1 101.9,390.5 119.1,380.1 115.6,399.7 110.0,387.4 154.6,381.8 109.5,391.4 156.0,361.7 159.5,375.6 116.1,382.8 124.8,385.5 170.2,365.6 153.0,363.8 159.4,370.9 136.4,375.3 136.4,378.8 153.1,383.6 141.3,386.1 149.6,362.6 163.4,375.8 147.0,400.6 171.0,377.9 160.1,359.1 133.2,389.4 134.2,388.9 100.5,401.1 107.1,401.2 160.2,381.0 125.2,375.7 134.1,405.9 158.4,366.0 115.3,402.7 171.8,361.2 165.3,382.7 137.6,372.2 137.9,388.3 148.8,370.1 150.5,391.0 127.4,375.1 154.8,391.8 120.2,388.6 136.8,372.1 144.3,399.6 102.2,392.3 121.5,405.3 154.6,377.7 152.6,372.8 156.3,383.9 137.8,396.5 115.5,379.1 158.8,371.5 134.2,399.0 171.1,355.2 154.4,376.6 130.8,391.4 135.6,399.6 169.4,381.1 111.7,379.7 143.8,389.4 124.8,403.8 170.6,355.4 137.8,369.7 148.8,374.6 164.9,364.7 116.7,384.0 158.2,359.2 126.0,393.0 141.1,370.7 113.4,386.6 132.5,374.3 130.1,385.7 102.8,394.4 148.6,374.8 134.8,387.4 144.7,402.2 142.3,368.8 126.7,394.9 158.0,368.8 112.8,392.4 136.9,398.2 140.6,381.0 150.9,376.9 112.3,398.8 128.7,369.9 132.6,396.6 115.1,386.0 153.1,381.1 147.5,371.8 103.6,393.0 164.1,382.2 151.2,366.0 117.6,386.6 160.9,374.6 129.8,384.9 131.2,380.1 134.0,382.6 129.9,394.8 122.2,378.8 150.9,393.2 157.6,358.9 123.1,387.6 139.8,387.1 146.2,398.8 147.3,399.9 135.6,393.0 153.2,400.3 111.0,402.3 123.0,402.8 160.8,360.3 146.7,397.7 133.8,383.7 155.3,387.4 121.7,386.3 143.0,393.4 131.3,404.0 117.5,382.2 127.5,407.9 129.5,398.8 168.2,383.2 135.1,402.0 117.0,378.0 159.4,386.6 165.0,359.3 118.4,400.7 144.7,400.7 135.9,403.6 113.4,384.5 135.3,398.6 86.6,402.5 156.3,391.2 129.3,403.8 108.6,399.5 168.9,366.9 132.3,382.1 136.5,389.8 121.3,405.4 141.1,376.4 161.7,392.6 128.1,386.7 168.6,368.9 164.9,365.6 166.9,356.4 134.5,395.9 113.6,400.3 167.5,388.9 169.5,366.3 163.7,357.0 113.9,391.6 122.6,390.0 157.3,382.2 167.9,379.3 142.6,395.6 154.9,375.6 134.9,368.7 127.2,405.4 109.6,394.9 167.5,381.1 113.8,401.5 130.0,375.2 118.6,400.0 169.2,357.8 155.9,383.3 148.6,402.4 132.9,407.6 170.7,366.9 168.8,351.8 155.3,363.9 150.3,371.7 127.1,400.1 111.6,386.5 133.2,372.4 163.9,374.3 134.8,380.6 117.3,399.9 154.7,394.5 146.5,397.1 107.5,402.8 140.9,395.6 123.6,400.6 133.8,369.8 169.4,364.1 119.8,391.3 149.3,365.2 143.6,370.1 148.6,378.6 160.3,360.6 172.9,358.8 128.1,381.7 148.6,395.7 122.2,388.9 133.7,385.5 136.4,401.5 154.1,389.8 154.6,394.5 154.9,387.8 123.6,376.7 149.8,404.1 105.6,386.1 132.0,379.6 124.8,391.8 144.2,361.7 132.6,381.1 141.1,383.3 119.9,397.5 150.5,364.9 154.0,399.7 130.0,367.3 152.9,385.1 117.7,379.1 133.0,398.8 149.3,388.2 119.0,390.0 138.9,380.1 174.1,364.1 138.6,393.2 137.7,384.3 152.9,381.9 129.7,380.4 158.2,390.1 143.0,401.3 138.7,404.8 134.2,382.5 172.3,373.2 122.6,400.7 130.1,392.0 160.6,383.5 152.2,366.5 113.5,383.3 119.4,397.0 119.5,393.7 139.8,391.1 147.0,399.8 143.7,385.0 130.2,387.8 131.6,374.3 141.1,375.6 118.2,380.9 110.1,393.6 134.3,372.8 157.7,369.7 148.2,369.3 146.4,386.5 143.3,376.2 160.6,361.7 119.2,383.1 146.4,358.9 108.7,395.6 157.5,386.9 137.4,394.4 111.1,392.4 105.4,400.3 153.9,368.0 132.3,378.5 162.6,369.8 111.2,400.6 151.8,386.5 136.1,400.5 163.5,380.6 160.9,357.8 147.5,371.1 124.2,379.9 118.0,393.9 126.0,405.9 152.9,403.3 146.2,394.1 136.2,399.3 160.6,355.0 171.5,376.8 124.7,408.1 133.1,389.5 168.0,372.6 136.6,371.5 135.5,401.1 141.5,378.4 152.4,368.3 132.2,379.0 170.2,370.0 116.8,395.9 127.6,379.0 161.2,356.1 160.5,354.8 168.0,354.1 156.7,376.8 117.1,400.0 132.6,376.0 89.3,407.2 134.0,380.7 163.8,365.9 150.7,374.9 150.3,367.5 105.0,408.5 158.9,368.7 144.4,391.6 117.0,389.3 151.8,388.0 161.4,378.5 163.4,358.1 145.1,373.5 101.0,398.8 141.4,383.3 167.0,383.0 148.1,394.3 119.5,406.7 108.5,393.8 168.1,367.5 106.7,403.2 142.5,368.5 159.0,363.1 134.5,383.0 113.0,381.5 132.8,381.9 165.3,354.8 138.7,385.8 116.6,393.3 157.8,355.7 154.9,379.8 113.6,396.1 138.3,374.6 141.8,385.9 159.9,395.0 154.4,367.8 135.6,373.0 165.1,360.0 113.5,397.8 153.3,383.5 144.6,377.6 143.6,375.8 140.9,401.9 110.1,404.0 151.2,359.7 118.4,384.0 143.5,364.3 133.1,395.6 151.6,387.6 121.5,381.5 166.3,378.7 114.9,384.6 147.3,388.6 132.0,389.9 134.2,404.2 123.3,397.0 160.9,366.1 113.6,389.6 170.8,355.7 121.1,403.5 128.0,380.4 153.8,389.8 132.5,387.5 124.4,393.2 118.4,394.1 154.6,391.7 166.0,361.0 142.0,398.6 175.5,359.8 170.1,382.1 134.2,403.9 134.7,392.3 169.8,363.1 124.4,382.3 132.9,403.7 153.7,365.0 153.1,362.1 120.5,382.5 103.3,406.4 166.8,354.0 138.6,398.3 126.1,390.8 158.8,362.4 111.1,379.9 118.8,383.9 120.7,387.2 128.1,396.7 129.7,377.2 170.2,374.8 143.2,400.2 150.1,365.7 165.1,374.2 149.9,392.7 117.5,386.2 143.2,362.0 103.8,396.8 166.8,377.5 114.5,397.1 125.1,380.1 148.8,364.7 113.7,401.4 151.4,363.0 120.7,393.8 148.6,390.4 150.2,399.6 142.4,379.9 118.7,405.9 156.8,370.8 102.7,402.2 122.8,391.1 155.3,390.1 169.6,374.8 154.7,369.3 107.1,384.9 143.1,394.9 116.8,389.4 123.3,393.1 134.0,390.8 137.4,407.6 122.1,377.6 158.4,360.7 133.5,403.8 154.7,365.6 139.9,406.7 136.5,388.3 111.5,385.8 155.9,366.1 123.7,383.1 135.9,382.7 139.8,375.3 107.5,399.9 136.5,371.8 107.6,396.5 145.0,390.1 143.0,383.6 136.2,386.9 129.5,378.7 141.7,398.7 145.4,365.3 132.8,385.5 155.7,394.1 120.9,396.2 120.2,394.3 118.4,402.6 127.5,396.7 136.1,403.6 133.3,385.8 167.7,359.1 159.8,369.5 141.9,379.0 128.2,381.5 109.3,393.0 134.8,384.3 119.2,398.3 170.9,383.5 123.9,399.6 140.8,384.1 157.7,395.1 154.7,387.9 168.8,383.2 115.8,383.5 179.5,360.9 151.7,387.8 146.2,366.4 155.9,378.9 154.3,365.9 135.5,373.6 157.9,368.0 132.0,399.2 160.6,366.4 155.4,381.7 148.9,402.8 159.7,361.2 157.6,365.3 108.9,395.2 162.1,379.8 106.9,387.6 127.6,401.2 130.4,400.5 139.5,391.7 146.3,368.3 140.8,367.8 124.3,398.9 120.9,403.8 159.7,398.2 156.6,374.0 112.1,395.8 103.6,405.4 165.6,370.7 140.5,390.4 158.5,369.5 145.9,363.7 171.3,359.4 153.2,362.5 146.6,388.1 148.6,384.2 171.8,369.0 103.2,405.4 154.5,375.1 113.4,380.0 156.3,356.3 116.1,377.6 115.0,380.4 149.2,362.5 138.6,390.6 169.1,361.2 114.2,381.3 141.2,397.5 164.3,371.1 119.7,392.5 109.2,387.7 164.1,364.7 166.8,382.5 127.7,370.4 130.5,399.9 132.2,407.7 138.0,361.6 134.8,390.2 147.8,390.5 127.5,377.9 154.5,386.1 142.5,397.0 119.5,390.5 147.1,368.2 141.6,403.9 131.2,377.1 159.8,373.8 162.9,386.1 122.7,392.8 145.2,373.0 146.5,393.5 170.7,347.1 151.9,397.1 111.3,390.5 138.2,372.4 157.7,370.8 166.8,362.8 138.5,380.3 171.0,356.2 164.6,366.0 112.1,396.2 147.2,400.1 123.3,371.3 164.3,358.3 171.1,366.4 120.9,400.7 110.4,404.7 156.6,368.6 149.9,387.5 137.4,388.0 108.1,398.0 144.5,394.9 122.4,399.0 140.4,376.5 116.6,397.1 119.1,377.2 136.0,400.3 150.6,388.9 149.1,366.5 160.1,391.1 130.7,406.0 138.5,375.3 131.6,384.8 133.2,404.3 119.0,391.5 132.1,377.0 159.1,389.8 133.1,394.1 161.8,357.2 126.0,395.8 142.0,368.7 164.7,399.3 170.8,355.1 125.5,377.5 148.5,374.3 144.4,371.8 158.4,382.1 114.8,393.8 146.5,364.9 151.6,382.8 153.4,380.8 115.8,393.4 141.8,372.9 126.7,371.8 137.2,386.1 113.3,395.5 138.1,367.5 163.0,367.4 116.2,376.8 141.4,397.8 132.8,392.4 157.4,393.5 143.6,387.2 163.7,353.8 116.8,399.4 133.4,404.3 157.9,383.7 166.5,358.0 116.4,393.2 161.9,362.7 157.2,384.8 155.1,383.3 110.4,382.2 154.9,361.8 133.2,368.9 133.0,377.1 175.1,358.4 113.5,389.5 131.8,383.3 117.3,385.4 126.4,378.5 118.3,379.8 170.7,380.2 121.5,395.8 128.4,390.3 107.0,400.3 153.3,368.2 135.8,410.1 126.3,392.2 164.6,377.6 174.1,354.0 145.2,401.2 138.3,408.9 129.9,388.8 139.1,372.3 137.1,375.3 153.9,365.0 113.5,388.4 141.5,370.3 160.1,388.0 143.3,373.5 137.9,393.8 171.4,366.6 144.9,375.9 167.1,368.4 113.7,380.5 151.3,385.4 152.8,392.1 159.9,388.8 141.8,400.6 159.7,375.5 140.9,400.8 124.2,384.6 123.4,395.3 174.6,361.4 171.6,365.0 156.3,385.7 125.5,379.1 141.7,372.7 127.0,408.0 165.3,369.1 138.8,373.6 119.5,394.7 145.5,395.9 162.7,386.6 165.2,379.2 162.0,360.5 129.8,377.4 115.1,390.9 107.4,377.2 115.2,384.9 161.8,343.8 147.7,390.4 145.4,397.9 167.6,362.3 139.2,403.3 179.2,365.4 165.1,361.2 151.1,362.3 132.8,385.0 134.3,395.2 152.3,377.1 108.6,406.3 133.0,394.5 144.9,404.1 142.3,390.4 149.3,359.4 137.9,378.7 156.2,374.8 142.8,368.4 101.8,407.5 152.5,396.6 142.9,385.7 158.3,359.8 138.2,380.0 120.4,383.7 149.0,372.9 114.4,389.1 112.1,388.9 148.4,388.2 139.3,376.3 168.7,348.4 139.1,370.6 123.4,393.9 143.7,364.4 156.4,359.7 122.8,396.3 148.6,400.8 156.3,374.1 152.3,363.6 134.1,400.3 146.3,369.5 158.8,376.7 131.2,401.2 167.1,369.4 134.2,406.3 124.4,383.3 141.6,369.9 165.6,375.3 158.2,372.4 149.1,368.1 165.5,374.1 123.0,407.0 127.2,371.8 156.2,369.3 127.9,377.8 119.3,397.0 145.0,371.1 152.6,368.9 108.0,405.9 164.3,358.4 164.1,366.8 153.8,361.2 145.4,385.1 117.8,390.7 146.9,376.8 162.9,374.3 118.0,394.3 147.2,397.1 148.0,379.5 145.3,395.1 139.4,377.6 117.4,387.1 167.0,386.1 153.1,392.6 121.2,404.3 143.3,394.0 148.7,393.3 96.5,402.6 153.0,358.3 152.2,393.3 163.7,378.3 125.6,393.8 175.0,352.6 163.0,377.4 159.8,365.9 146.4,380.4 142.9,384.2 124.8,405.4 163.1,381.7 123.2,380.3 115.4,401.5 153.8,355.7 150.7,353.9 154.9,374.6 151.2,386.9 126.8,394.6 133.2,377.7 128.3,404.5 145.8,397.3 154.0,374.2 151.5,367.8 110.1,394.4 61.0,389.5 79.6,410.6 84.8,407.4 86.3,410.0 122.8,415.5 132.2,414.1 99.7,377.9 103.0,377.9 105.4,374.6 110.9,372.0 101.2,384.0 129.9,362.7 128.0,365.6 132.2,364.9 87.5,383.5 90.0,384.0 92.2,384.6 94.0,385.5 95.5,383.1 94.9,385.8 83.3,395.4 85.5,395.4 87.8,394.7 90.0,393.9 92.2,394.7 94.5,393.9 97.5,394.7 98.2,390.2 99.7,389.5 98.9,396.9 84.8,396.2 89.0,395.9 99.1,401.6 98.5,402.0 100.1,401.2 100.8,401.7 90.7,403.1 95.2,403.0 97.3,402.2 96.6,401.6 92.2,407.8 92.6,407.8 99.8,407.3 101.9,407.2 95.4,405.3 87.6,409.0 106.9,405.4 94.2,408.3 89.0,407.9 97.6,406.4 88.2,407.9 92.9,409.0 92.6,407.8 94.7,407.2 94.2,407.7 89.2,408.1 94.7,408.7 102.1,408.9 102.8,408.2 104.1,407.0 104.1,405.8 92.9,407.6 103.1,405.7 96.5,408.5 92.5,406.9 83.3,406.8 127.7,365.6 130.2,362.2 137.0,359.7 143.0,358.0 162.6,345.2 171.9,342.7 180.4,348.6 183.0,350.3 186.0,357.6 178.7,368.2 177.9,375.9 181.3,377.6 185.2,375.9 174.5,381.0 166.8,390.3 161.7,403.1 155.7,405.6 132.8,413.3" fill="none" stroke="none" marker-start="url(#m)" marker-mid="url(#m)" marker-end="url(#m)"/>
<path d="M165.45 350.35l6.1 6.1M165.45 356.45l6.1 -6.1" stroke="#f28e2b" stroke-width="1.45" fill="none"/>
<rect x="36.45" y="255.50" width="185.65" height="185.65" fill="none" stroke="#3c3c3c" stroke-width="0.8"/>
<path d="M39.50 441.15v4.3M77.97 441.15v4.3M116.45 441.15v4.3M154.93 441.15v4.3M193.40 441.15v4.3M36.45 435.60h-4.3M36.45 379.05h-4.3M36.45 322.50h-4.3M36.45 265.95h-4.3" stroke="#3c3c3c" stroke-width="0.8" fill="none"/>
<text x="39.50" y="455.30" font-size="13" text-anchor="middle" fill="#000">0.5</text>
<text x="77.97" y="455.30" font-size="13" text-anchor="middle" fill="#000">0.6</text>
<text x="116.45" y="455.30" font-size="13" text-anchor="middle" fill="#000">0.7</text>
<text x="154.93" y="455.30" font-size="13" text-anchor="middle" fill="#000">0.8</text>
<text x="193.40" y="455.30" font-size="13" text-anchor="middle" fill="#000">0.9</text>
<text transform="translate(27.75 435.60) rotate(-90)" font-size="13" text-anchor="middle" fill="#000">0</text>
<text transform="translate(27.75 379.05) rotate(-90)" font-size="13" text-anchor="middle" fill="#000">5</text>
<text transform="translate(27.75 322.50) rotate(-90)" font-size="13" text-anchor="middle" fill="#000">10</text>
<text transform="translate(27.75 265.95) rotate(-90)" font-size="13" text-anchor="middle" fill="#000">15</text>
<text transform="translate(129.95 470.00) scale(0.86 1)" font-size="11.6" font-style="italic" text-anchor="middle" fill="#000" stroke="#000" stroke-width="0.35">T</text>
<text transform="translate(12.25 347.30) rotate(-90)" font-size="17" font-style="italic" text-anchor="middle" fill="#000" stroke="#000" stroke-width="0.15">d</text>
<text x="10.85" y="246.00" font-size="18.3" fill="#000"><tspan font-size="20">(</tspan><tspan dx="0.14">d</tspan><tspan font-size="20" dx="-0.33">)</tspan></text>
<g stroke="#d6d6d6" stroke-width="0.9" stroke-dasharray="2.2 2.13" fill="none"><path d="M267.15 337.00H453.20"/><path d="M410.00 442.25V255.50"/></g>
<polyline points="382.6,366.7 369.3,395.2 392.9,377.0 390.1,360.5 386.7,386.1 366.1,381.7 368.5,388.1 385.2,378.9 377.5,371.9 392.1,361.8 392.5,361.8 381.4,390.7 353.9,394.9 367.9,378.9 404.3,369.2 362.3,378.4 386.2,381.9 402.7,353.3 383.1,369.7 352.4,393.3 349.2,372.8 394.6,356.0 392.8,358.4 388.3,359.9 353.4,392.3 385.0,349.1 384.1,363.4 397.3,361.0 396.6,375.6 369.2,379.9 383.1,378.4 391.7,380.0 347.1,400.7 354.6,383.5 347.3,390.0 402.1,352.9 372.9,383.5 376.8,373.1 367.1,372.8 384.9,391.1 405.9,356.0 357.6,382.6 359.5,375.5 379.7,359.2 370.4,371.1 380.2,373.5 355.2,386.5 389.4,375.2 351.9,388.4 365.7,388.6 398.0,354.9 363.2,400.1 358.3,375.2 355.5,379.1 387.9,365.0 354.6,375.6 387.6,370.7 368.5,377.4 372.6,395.3 397.0,351.6 401.5,359.4 360.3,373.3 402.6,359.9 385.0,394.3 359.6,390.6 385.4,361.6 396.5,380.2 368.6,386.2 404.7,360.3 345.9,389.0 349.3,385.6 392.6,376.1 386.0,361.2 403.4,353.4 381.6,377.1 396.4,357.3 400.3,361.0 391.6,349.1 357.9,389.2 391.9,352.9 352.2,392.4 384.6,387.5 351.0,382.2 396.6,371.8 403.2,351.3 366.6,402.2 373.2,377.3 396.7,346.3 373.1,400.1 369.0,379.8 385.0,395.7 379.3,375.4 361.5,389.9 373.1,387.4 395.6,363.1 354.8,381.2 402.6,372.0 395.9,357.2 391.0,374.0 366.8,376.2 390.5,381.7 376.5,372.8 389.2,358.3 397.6,349.8 375.8,368.7 396.9,366.6 362.5,395.3 386.0,360.3 400.5,364.7 397.2,361.5 369.9,396.7 387.9,369.7 404.7,371.5 387.3,368.1 393.5,385.4 389.5,354.4 349.2,388.6 391.4,352.5 379.9,381.9 390.6,358.8 361.0,395.7 392.3,354.5 403.8,366.5 357.9,388.5 402.9,353.9 387.8,379.4 394.8,368.8 381.3,374.8 352.4,401.8 365.8,387.2 397.4,380.9 372.9,365.0 400.5,357.9 357.3,379.9 375.6,391.9 372.4,376.2 394.8,368.7 398.0,378.4 399.7,355.1 376.9,384.6 372.9,378.6 365.9,381.3 406.7,360.3 356.2,385.6 362.2,383.7 370.7,376.0 398.6,373.0 355.8,391.4 403.0,355.0 363.7,392.8 381.9,385.3 353.4,393.8 365.3,391.6 380.3,363.7 399.0,358.4 378.6,384.7 354.1,394.8 388.9,387.5 364.7,369.5 386.2,362.6 396.3,351.8 364.8,393.7 401.8,371.8 379.5,390.2 396.6,362.7 377.6,393.5 402.8,371.6 388.2,380.9 405.0,356.5 400.5,351.5 363.4,375.2 354.4,399.8 379.7,394.2 386.2,379.2 362.9,383.5 395.2,348.2 354.2,386.2 401.2,375.0 357.8,385.7 388.4,368.4 378.8,396.7 348.3,394.7 374.3,362.6 384.3,359.2 397.3,348.3 381.2,377.3 397.4,353.0 405.1,367.7 406.9,366.8 363.3,375.1 371.8,373.9 381.0,376.5 356.3,387.7 399.0,357.1 351.0,392.6 380.0,366.3 360.0,384.2 393.7,371.7 373.3,378.7 378.5,385.8 369.9,380.2 409.3,372.7 372.9,387.2 404.5,362.2 385.3,375.8 394.8,390.5 360.3,380.8 358.3,390.1 385.2,371.9 377.5,367.5 389.8,376.4 387.1,382.6 395.9,374.6 374.2,374.4 386.1,385.8 382.9,370.0 399.0,360.8 409.9,349.0 382.0,362.9 387.3,357.9 372.5,365.2 397.0,352.4 378.2,365.6 365.7,379.1 357.6,375.7 402.3,366.4 394.6,392.4 386.2,348.9 386.6,386.1 396.7,388.7 406.9,364.8 373.6,364.7 367.9,386.3 369.8,370.6 402.2,370.7 401.1,368.7 383.4,386.2 372.8,379.1 401.1,371.1 383.9,370.6 379.4,365.7 394.7,357.9 363.4,377.9 404.9,380.7 384.9,379.7 365.6,380.4 398.8,367.2 394.3,354.6 359.6,383.1 386.3,379.2 403.9,366.8 360.7,389.5 392.6,377.5 396.8,375.7 403.9,355.6 367.3,382.1 387.6,353.6 374.1,389.9 393.5,364.2 387.0,386.1 367.7,395.2 396.4,374.0 398.8,354.7 385.8,377.7 392.5,353.8 402.4,369.2 376.0,361.0 376.6,373.2 391.8,355.9 397.4,361.3 349.0,391.7 352.6,389.3 347.6,395.2 396.1,368.6 355.1,378.7 400.1,376.0 372.4,381.8 387.5,360.6 398.8,348.1 378.0,380.4 387.7,376.8 383.0,383.9 372.8,375.0 373.5,383.2 384.3,386.4 370.0,385.6 380.4,377.1 384.5,367.7 359.5,385.4 393.4,380.0 386.5,391.1 366.9,365.7 364.7,384.8 345.7,384.6 364.8,390.6 389.8,376.2 406.1,377.9 373.5,376.2 376.6,389.3 382.7,389.8 352.5,384.8 362.9,394.9 400.5,370.3 384.8,372.1 385.0,364.4 385.6,382.6 373.6,377.1 391.3,388.4 394.4,373.7 386.1,367.1 375.8,383.2 401.1,358.9 402.6,369.7 407.5,363.5 368.4,387.8 393.7,360.2 401.6,354.7 378.3,383.0 364.0,373.7 393.2,356.8 404.8,348.6 352.3,397.9 366.4,380.9 400.2,388.9 359.5,383.2 393.9,354.2 375.2,377.4 405.3,360.9 393.8,354.2 363.4,380.9 383.5,387.9 383.5,373.7 388.0,392.5 394.2,367.5 383.5,362.0 398.9,369.2 378.3,366.2 371.5,386.5 377.5,360.1 387.3,358.4 385.0,386.8 376.8,365.9 357.0,394.3 382.8,383.4 362.9,367.8 398.7,346.8 388.0,369.6 387.0,356.3 384.3,392.3 404.3,368.9 378.9,382.9 380.8,384.9 383.5,371.8 363.9,379.6 403.3,375.6 363.9,377.6 350.2,393.0 395.5,390.7 385.3,378.4 373.0,367.0 397.1,366.3 350.1,391.6 373.3,382.4 361.4,381.5 354.0,396.9 378.1,387.4 367.0,389.8 385.7,373.8 352.4,391.2 361.1,384.7 380.8,369.5 400.4,352.2 375.2,368.4 405.2,361.4 393.0,386.4 398.5,378.0 376.6,375.1 352.6,383.0 378.3,363.0 349.3,396.7 348.1,395.4 359.1,392.2 397.1,374.6 392.3,354.2 400.6,358.6 394.5,398.3 353.8,394.2 356.7,371.6 379.0,370.1 376.8,386.2 403.7,358.1 369.8,372.7 389.6,382.0 403.8,353.5 357.4,385.7 378.0,374.7 362.8,381.9 376.0,365.6 357.0,389.1 368.0,397.2 347.8,395.9 371.5,394.5 381.4,381.0 368.5,386.5 408.0,366.0 402.2,375.0 395.6,383.2 378.9,367.8 370.0,395.5 399.5,372.7 371.2,373.3 354.8,385.7 378.8,398.4 401.7,369.6 387.0,385.4 377.4,384.6 381.9,400.5 403.6,367.6 404.9,367.5 373.8,376.9 376.3,370.6 392.6,386.4 342.3,386.3 382.4,361.8 347.4,388.5 366.0,376.3 402.9,345.8 397.1,378.3 350.6,394.9 401.5,371.5 373.1,370.8 394.5,393.9 389.3,359.4 397.0,383.5 404.4,350.9 405.6,364.2 351.5,383.0 409.6,345.1 400.8,356.6 385.3,391.6 372.2,374.0 396.3,369.1 388.5,380.0 400.1,349.6 400.2,350.5 366.6,373.2 387.9,359.3 403.4,366.0 393.1,369.5 370.3,394.6 393.6,397.8 380.9,375.8 399.1,363.6 402.7,364.1 386.6,382.4 373.3,377.4 381.8,361.4 370.3,371.8 390.7,376.7 385.1,389.4 386.7,358.9 353.8,396.4 399.9,372.4 395.4,375.2 366.0,392.4 380.9,367.4 356.1,393.5 394.1,376.2 370.0,384.1 381.9,372.4 401.8,371.4 390.6,396.8 376.5,393.0 365.8,378.4 361.0,395.8 375.1,376.4 404.5,359.0 382.4,378.4 371.8,385.8 389.8,371.0 374.4,403.1 395.4,369.0 394.7,363.4 385.1,382.2 357.7,379.5 394.8,374.0 385.3,392.7 395.4,351.0 392.8,378.7 356.5,392.8 407.0,354.8 366.4,392.2 349.7,389.5 399.6,374.3 404.2,352.3 370.7,391.3 401.4,368.2 384.7,377.9 354.2,389.4 404.9,355.7 380.0,381.9 386.6,362.1 377.1,369.7 404.4,387.7 386.1,392.6 374.9,381.6 401.0,352.2 382.4,392.8 370.6,379.4 365.4,373.1 390.8,353.6 357.8,387.8 364.6,367.3 382.9,381.5 398.1,347.6 403.9,370.0 382.4,360.5 391.6,363.8 409.0,365.6 407.7,367.9 386.1,367.2 399.4,378.9 355.6,376.1 402.8,360.9 382.3,393.6 377.9,391.4 375.9,389.6 403.1,357.5 378.2,368.4 399.6,370.6 362.4,374.6 380.5,387.6 397.2,343.9 380.3,388.2 400.3,382.1 386.7,387.7 407.5,363.8 389.2,369.2 375.3,392.7 383.7,374.2 400.6,368.7 382.8,371.9 395.7,357.5 380.0,378.1 379.4,382.3 404.2,360.9 382.2,393.9 381.4,384.7 385.6,382.8 374.4,376.6 368.7,370.4 386.5,370.4 381.5,380.9 380.5,374.5 386.7,361.2 361.9,388.2 394.6,387.7 383.4,381.4 375.3,380.0 379.5,369.9 362.6,380.5 356.4,376.6 400.2,393.6 371.0,377.0 363.7,385.7 368.4,372.2 391.5,391.2 357.1,394.4 385.6,371.8 406.3,368.4 392.5,354.6 359.6,378.9 390.9,356.7 359.5,376.2 349.5,392.0 392.3,355.6 371.2,379.0 399.8,351.0 391.4,354.0 364.0,379.5 369.4,394.4 404.4,367.0 401.3,370.9 371.0,385.5 381.6,368.7 359.3,374.7 371.6,390.0 389.7,355.8 405.6,364.3 396.3,389.9 355.3,380.9 395.7,361.6 379.6,370.5 405.3,361.5 385.8,379.3 367.3,398.3 374.8,398.6 360.7,389.1 399.7,359.2 387.1,371.1 367.2,375.5 392.5,382.4 373.3,379.3 364.4,391.8 359.5,394.2 361.9,393.2 379.6,394.8 359.5,394.2 402.1,382.3 382.8,360.8 394.6,360.3 380.7,378.5 371.8,374.7 370.1,385.8 378.4,387.2 354.3,389.9 357.5,394.0 382.0,375.5 394.0,386.2 367.6,383.7 392.5,373.5 349.5,389.2 403.0,368.4 359.6,390.6 399.2,370.2 381.4,374.1 396.3,355.9 366.2,397.7 368.5,383.0 377.3,362.3 358.8,386.8 395.5,380.4 377.6,365.4 389.6,383.7 368.3,385.5 397.3,343.0 402.4,356.3 365.9,383.9 385.5,357.7 376.9,368.5 383.3,370.9 355.5,381.2 389.6,365.3 366.0,369.7 373.2,394.9 373.2,381.4 400.1,350.6 366.7,369.2 405.3,358.6 362.6,379.5 365.1,375.5 386.0,374.4 355.8,390.0 396.3,361.5 343.7,386.9 375.1,375.8 370.9,378.6 355.1,372.0 371.8,375.2 381.7,375.1 388.4,367.2 393.7,353.0 368.9,388.3 382.6,385.6 375.9,388.7 379.9,372.5 398.3,370.0 375.7,371.5 395.8,390.9 363.2,378.9 402.9,370.3 388.0,354.0 407.2,376.4 400.0,368.4 377.4,383.4 379.8,378.2 351.7,389.7 376.7,399.2 375.0,367.0 360.2,382.6 388.3,373.4 386.6,391.9 410.4,351.9 375.2,382.0 359.3,381.0 358.5,379.9 375.5,386.9 360.3,374.8 353.8,391.2 400.8,359.1 355.6,383.3 385.0,392.8 370.7,397.0 350.1,390.8 393.6,379.1 362.2,394.5 366.5,382.4 387.6,380.8 357.8,376.2 401.5,355.9 401.2,366.9 389.9,377.6 392.9,366.5 381.4,392.2 396.0,373.6 402.6,362.7 349.1,393.3 354.9,394.2 378.8,386.9 386.7,385.2 404.8,356.4 387.6,361.3 349.5,394.9 373.7,367.2 394.4,369.4 370.6,372.0 386.7,371.8 395.5,387.9 363.5,395.5 394.3,381.9 382.1,398.0 396.0,368.3 393.7,357.0 387.6,388.5 392.8,371.1 400.7,374.5 365.8,387.1 373.7,400.6 403.0,354.2 375.2,387.9 364.7,373.0 372.6,391.8 388.6,382.6 374.7,366.0 395.3,345.4 409.6,352.8 382.4,389.0 389.6,358.9 392.9,383.4 360.6,385.6 388.0,373.5 365.6,371.0 387.7,381.5 399.3,358.5 393.1,345.0 383.8,363.3 382.5,379.1 386.1,376.9 403.5,376.0 386.6,367.0 387.4,381.6 378.2,382.3 396.0,365.7 351.6,384.2 375.3,380.8 385.9,381.1 401.6,374.9 375.7,373.3 400.2,361.5 373.5,380.7 390.9,368.2 368.4,383.3 386.4,360.7 366.2,375.5 354.4,377.6 385.6,384.6 344.3,392.9 348.6,397.0 384.4,369.0 389.6,366.3 380.1,379.6 382.9,373.4 368.3,382.3 398.7,370.6 376.2,369.9 380.5,361.4 368.1,378.1 386.0,366.0 398.8,377.4 350.0,381.5 403.6,348.2 385.8,362.6 382.3,360.5 382.0,383.4 376.7,380.5 384.0,368.0 351.4,388.6 402.1,373.0 367.4,395.3 361.5,390.8 363.0,386.0 381.1,376.2 394.1,385.9 397.4,376.5 381.3,374.2 396.2,386.6 362.6,389.0 396.0,363.2 381.7,363.4 392.0,359.6 394.8,382.8 400.2,375.1 363.0,392.9 393.3,385.1 392.2,387.4 383.3,386.5 365.1,375.2 360.2,382.7 389.4,377.1 347.1,391.7 361.7,389.0 383.2,364.2 385.9,362.8 383.8,376.9 365.7,371.2 355.8,394.8 367.2,378.9 387.0,382.7 382.5,376.2 389.9,392.5 378.7,371.0 386.5,374.5 388.7,370.8 385.6,366.0 404.3,364.4 367.4,370.5 372.1,369.1 353.5,393.2 374.1,376.8 371.5,369.8 384.8,365.3 392.9,354.9 405.4,362.0 380.9,362.8 354.4,378.3 355.1,393.4 376.4,394.3 368.6,383.7 379.1,381.0 406.8,354.3 372.2,397.7 358.6,385.9 371.4,386.4 402.0,361.5 350.7,384.1 396.3,370.0 365.1,383.2 397.0,352.6 386.8,384.0 376.1,392.9 394.9,352.9 380.9,381.2 344.3,390.6 370.4,383.2 410.9,356.4 383.1,379.8 365.7,376.4 372.7,395.1 390.4,355.9 385.5,360.0 390.2,380.8 392.9,395.6 398.9,351.1 389.3,377.3 359.0,391.6 374.7,365.3 402.7,374.6 388.7,356.6 343.2,384.4 382.8,371.5 351.7,390.8 375.0,383.0 351.8,384.5 392.3,349.6 386.5,374.5 395.7,385.3 382.7,375.3 397.2,358.6 393.0,389.4 396.5,345.1 401.1,368.8 382.9,381.7 405.6,356.3 370.3,368.2 381.7,401.4 384.4,376.1 368.5,370.5 405.3,370.8 379.0,373.5 353.2,386.0 380.0,375.1 376.7,383.8 395.9,360.3 378.5,371.0 370.9,383.7 377.8,392.7 401.9,343.7 371.2,381.4 395.6,377.3 368.1,366.9 389.2,378.5 408.5,356.4 358.2,391.9 363.1,376.3 379.2,365.1 381.2,385.4 385.7,370.6 348.0,390.8 381.5,366.7 406.9,354.0 377.6,385.4 372.7,379.1 394.1,388.5 396.2,379.5 374.4,374.2 398.9,372.3 357.1,380.7 374.6,393.1 401.3,382.3 389.4,375.8 406.6,360.0 362.2,372.9 364.7,387.5 397.9,371.0 400.9,382.1 384.1,392.8 392.3,359.0 353.2,387.7 385.4,373.6 391.9,367.5 374.2,391.7 371.0,368.2 373.9,369.1 354.4,378.4 392.9,390.9 366.5,389.9 395.8,357.1 390.2,399.0 387.6,373.2 399.8,368.4 393.0,347.8 398.0,375.9 390.5,364.2 390.6,378.6 361.7,378.3 384.2,387.5 401.9,368.3 367.6,390.1 379.9,386.6 388.3,373.8 382.1,383.1 398.9,367.2 386.1,370.2 396.9,380.2 359.9,396.9 377.9,378.1 362.9,386.6 353.9,384.1 404.6,365.4 390.1,371.3 394.3,360.2 395.1,380.9 353.9,393.2 381.9,384.2 404.6,365.7 371.7,392.9 356.8,385.9 401.5,353.7 381.0,383.0 394.9,365.7 382.1,385.6 363.4,383.0 373.4,400.1 390.6,392.8 363.3,390.6 369.1,379.1 384.4,392.8 350.5,393.5 360.4,395.5 382.1,371.6 370.6,376.2 381.8,366.5 396.0,365.1 388.1,363.7 388.1,347.0 388.5,373.3 370.7,372.8 397.6,359.7 377.6,390.7 356.9,384.7 379.9,390.5 376.7,387.4 393.2,359.8 404.5,353.6 367.5,377.8 368.5,385.4 365.2,387.9 392.0,360.3 403.8,350.8 382.4,370.6 356.4,397.5 402.3,356.4 395.5,383.7 374.9,374.2 397.9,365.0 370.4,397.5 376.9,372.9 381.4,386.2 360.8,378.2 392.4,373.7 366.5,382.0 393.9,353.6 390.0,393.1 359.3,382.8 394.6,381.8 395.8,377.7 396.3,386.4 368.9,395.2 360.7,381.7 367.5,380.6 395.7,382.0 389.7,379.2 393.7,359.7 369.0,392.8 374.4,375.6 352.3,395.2 378.9,368.2 369.3,375.8 392.4,362.1 383.5,396.2 399.6,348.3 398.8,350.9 370.3,381.7 391.5,374.6 382.7,374.2 361.1,378.6 400.9,379.6 390.4,375.9 363.9,376.6 370.0,394.9 387.2,366.6 388.7,381.0 401.3,364.1 352.6,393.5 361.0,399.3 382.8,361.4 375.7,395.8 352.9,390.7 394.1,373.1 399.7,371.5 381.3,381.4 398.9,383.7 397.2,362.6 385.8,370.8 410.2,355.4 391.1,354.5 381.9,385.4 356.9,400.6 378.3,378.0 383.9,364.5 340.5,393.3 399.2,361.5 364.5,382.5 368.8,383.9 378.2,383.6 370.7,375.6 402.7,365.8 383.1,371.5 399.2,355.3 385.7,390.6 376.4,369.9 370.9,387.2 364.0,382.0 364.9,378.5 391.8,375.9 386.4,364.4 384.3,365.5 376.5,385.1 382.3,369.7 383.8,355.1 382.3,362.3 377.6,392.6 355.6,389.8 369.7,391.8 390.1,349.7 354.8,382.0 382.3,368.2 383.8,363.7 377.4,384.9 363.3,366.9 392.2,384.9 370.7,392.4 366.2,380.3 398.3,389.8 388.5,364.4 359.2,376.8 397.3,367.8 397.5,354.5 359.0,399.0 392.0,351.3 354.4,385.1 402.2,363.2 370.1,386.0 351.4,387.3 393.4,382.9 402.1,376.0 373.2,388.1 387.5,367.7 390.3,366.3 395.7,358.5 373.8,377.3 358.9,390.2 402.7,382.7 356.0,391.3 361.1,383.8 384.4,389.0 349.8,396.8 389.5,352.9 363.3,382.9 377.3,397.1 395.1,378.8 400.5,362.1 390.8,358.8 405.3,349.0 387.1,360.1 352.3,392.4 377.9,396.8 386.0,393.1 384.0,385.5 362.8,370.7 356.4,394.2 351.9,394.0 375.8,374.3 377.8,380.0 374.7,373.8 383.1,361.6 368.6,380.5 404.6,369.7 395.5,356.2 379.4,376.5 371.3,371.2 403.4,344.2 392.8,369.4 394.9,361.9 350.1,397.6 367.6,391.4 365.4,381.3 391.6,379.0 395.2,385.6 393.6,363.6 367.2,376.8 382.2,370.4 352.6,384.1 396.0,357.7 381.2,376.5 405.6,368.9 358.5,378.3 388.8,354.5 370.2,384.6 401.6,376.4 385.0,375.1 400.4,367.4 366.7,394.7 402.8,360.6 385.0,369.1 408.0,362.6 375.5,365.6 351.7,393.1 367.2,376.9 361.0,374.5 389.3,379.9 396.2,370.0 352.9,398.2 395.4,390.8 366.6,381.1 362.2,370.2 396.0,353.8 388.2,367.0 390.8,381.9 354.5,379.2 366.8,393.2 355.2,394.0 383.3,387.3 349.2,390.4 368.1,385.3 385.4,369.4 394.9,376.1 357.2,381.1 384.8,367.2 395.6,355.1 353.6,397.6 392.1,387.8 386.0,388.0 357.4,383.6 394.7,362.3 357.7,389.6 362.0,393.5 402.9,353.1 392.7,372.0 395.8,379.3 380.8,368.1 387.4,393.7 406.0,356.3 397.9,369.6 380.2,366.5 379.7,374.1 361.3,395.7 390.4,385.5 386.2,391.8 390.8,380.7 369.5,372.7 381.5,366.8 373.4,392.1 372.5,399.7 371.3,377.7 393.4,353.9 383.5,362.0 388.1,378.7 389.2,356.5 408.0,347.7 402.0,347.3 380.5,386.3 352.8,380.9 397.5,350.2 371.2,378.2 393.3,363.8 351.9,396.0 384.3,364.9 377.3,391.8 388.8,370.1 396.5,363.3 381.1,397.6 389.5,376.4 379.4,362.9 363.5,383.2 353.3,400.1 399.7,364.3 349.2,386.2 390.8,372.9 379.8,382.5 386.0,382.3 386.3,373.9 349.1,392.3 379.9,390.6 353.4,386.8 402.2,359.7 385.1,375.1 399.5,350.2 364.9,383.9 388.6,389.3 402.6,347.4 408.0,351.1 381.0,370.9 393.7,379.9 384.5,380.9 364.2,373.5 397.9,368.0 394.5,373.2 400.7,365.7 352.0,390.9 391.1,373.2 376.8,377.0 358.8,380.4 377.1,368.6 396.9,359.8 360.0,386.6 385.5,389.8 390.3,357.5 406.4,377.9 376.0,382.4 373.2,400.1 351.2,385.2 392.7,381.0 401.9,356.6 364.8,376.8 354.6,385.3 396.9,348.6 379.5,389.8 402.3,374.4 393.2,389.1 369.4,394.5 368.5,396.1 366.2,381.4 386.1,381.8 358.9,379.4 397.1,364.0 360.6,381.2 367.9,389.6 384.1,356.4 364.3,374.6 408.8,348.3 371.7,381.5 382.2,383.1 384.7,378.7 383.7,369.4 358.3,378.5 405.3,359.3 380.2,363.0 388.4,369.1 406.2,367.0 386.7,357.1 360.6,371.7 405.3,359.3 398.7,350.3 381.4,370.4 389.3,368.6 362.5,401.5 358.6,391.0 372.9,390.8 385.4,360.0 395.7,363.8 359.1,397.4 390.2,360.6 378.9,393.6 390.9,395.4 390.0,378.1 388.2,355.0 388.7,366.3 385.0,370.4 391.0,377.1 373.2,388.6 379.2,375.4 386.0,353.1 355.9,388.8 380.1,387.7 365.7,378.0 352.8,395.4 365.4,380.2 407.2,364.3 401.9,355.9 364.5,375.8 404.7,356.3 384.3,389.0 374.2,375.3 388.3,390.5 388.9,392.3 368.8,391.2 397.8,367.5 388.0,352.4 366.3,392.5 380.1,366.6 391.9,378.7 358.2,379.0 405.6,366.1 385.1,378.3 383.6,394.5 397.2,357.0 351.4,385.5 382.9,369.5 399.7,355.1 398.8,367.9 386.0,378.3 372.0,376.8 372.9,379.6 388.0,359.1 396.3,376.4 363.4,374.8 394.9,376.9 378.9,372.0 392.4,381.2 392.1,388.1 362.9,374.1 364.8,388.9 398.6,365.7 384.6,369.4 380.2,390.3 387.8,382.8 387.3,361.7 378.9,370.4 371.0,379.6 380.3,390.3 398.5,385.1 372.3,386.5 366.7,388.0 353.1,390.2 400.6,374.4 395.3,376.0 371.3,387.6 372.3,379.0 402.2,356.3 376.2,381.6 402.0,367.2 350.9,390.1 370.9,392.6 394.3,349.2 401.8,353.0 369.0,379.4 376.9,389.7 404.2,349.3 381.0,387.7 359.1,388.0 399.9,375.1 395.6,393.5 375.8,381.6 400.6,370.1 401.3,365.9 357.4,392.4 405.4,363.8 392.2,346.2 390.9,373.0 390.2,384.4 387.5,384.5 398.7,380.0 351.1,388.1 378.9,377.0 374.0,376.4 353.3,383.9 369.4,371.2 403.0,359.8 359.3,383.3 380.3,388.4 394.0,363.3 366.6,384.0 360.8,381.7 352.9,381.6 374.0,374.8 384.9,386.4 373.4,391.0 380.1,387.9 402.9,365.6 379.4,371.8 401.0,373.3 373.2,362.9 353.9,385.1 381.0,359.4 373.1,377.1 400.5,360.3 372.6,381.6 385.2,363.3 373.7,386.8 396.6,388.8 379.6,361.7 369.3,388.1 381.3,374.0 395.7,386.9 375.8,370.8 388.8,384.7 405.1,353.4 369.4,372.4 364.2,378.8 372.7,383.1 398.8,368.0 374.9,392.7 392.1,351.6 388.7,375.3 368.1,377.2 397.3,348.4 403.0,354.8 366.5,392.1 389.2,365.1 365.3,397.4 356.6,375.3 378.7,370.1 360.4,395.5 365.1,392.1 395.1,362.1 395.1,372.1 369.3,393.2 399.3,354.6 384.9,381.1 391.5,365.3 368.0,381.2 396.8,345.3 388.4,360.2 373.1,382.7 392.1,373.7 397.8,379.9 396.4,360.6 364.8,374.8 379.2,384.3 388.6,381.8 351.0,390.6 380.4,354.4 384.8,393.0 397.6,368.1 403.3,345.2 366.2,383.9 367.0,388.3 404.4,363.7 384.2,363.6 369.0,384.0 395.5,368.9 398.1,362.5 374.1,385.1 374.7,364.8 394.7,358.3 390.5,389.0 363.3,385.3 376.7,392.2 384.2,372.4 370.9,377.3 360.8,386.3 395.5,390.4 369.0,379.6 384.0,369.3 393.0,378.9 389.4,394.5 392.5,347.5 400.2,367.3 394.6,368.5 404.3,358.1 403.4,365.9 391.8,372.8 363.8,371.1 387.9,390.2 386.2,382.9 358.7,391.7 402.7,354.0 405.8,351.5 310.9,386.1 316.1,384.3 323.8,394.2 325.0,395.4 325.6,393.5 329.8,392.0 331.6,391.7 333.1,391.4 336.9,382.0 336.9,383.5 335.5,386.5 340.2,372.0 343.2,373.1 346.9,372.3 349.9,372.0 350.4,369.8 321.6,406.2 325.6,408.1 326.8,404.4 329.1,403.9 331.6,404.4 334.3,402.9 337.2,402.9 339.5,404.8 341.0,402.1 346.2,405.9 347.4,406.3 350.4,405.9 359.6,405.9 362.6,406.3 363.3,411.4 375.2,405.1 375.2,407.4 363.3,361.2 368.5,361.6 374.5,356.3 339.5,389.0 338.4,392.5 340.5,394.7 339.9,398.4 342.0,385.8 343.5,381.0 344.7,399.9 350.9,370.5 363.6,361.1 374.7,356.4 384.0,347.9 391.7,341.6 410.4,346.2 414.7,344.5 419.8,348.4 415.5,352.1 415.5,363.2 416.0,370.9 416.0,374.3 406.2,380.2 386.6,401.5 362.8,405.7 409.9,336.8" fill="none" stroke="none" marker-start="url(#m)" marker-mid="url(#m)" marker-end="url(#m)"/>
<path d="M401.45 340.35l6.1 6.1M401.45 346.45l6.1 -6.1" stroke="#f28e2b" stroke-width="1.45" fill="none"/>
<rect x="267.55" y="255.50" width="185.65" height="185.65" fill="none" stroke="#3c3c3c" stroke-width="0.8"/>
<path d="M270.60 441.15v4.3M309.07 441.15v4.3M347.55 441.15v4.3M386.02 441.15v4.3M424.50 441.15v4.3M267.55 435.60h-4.3M267.55 379.05h-4.3M267.55 322.50h-4.3M267.55 265.95h-4.3" stroke="#3c3c3c" stroke-width="0.8" fill="none"/>
<text x="270.60" y="455.30" font-size="13" text-anchor="middle" fill="#000">0.5</text>
<text x="309.07" y="455.30" font-size="13" text-anchor="middle" fill="#000">0.6</text>
<text x="347.55" y="455.30" font-size="13" text-anchor="middle" fill="#000">0.7</text>
<text x="386.02" y="455.30" font-size="13" text-anchor="middle" fill="#000">0.8</text>
<text x="424.50" y="455.30" font-size="13" text-anchor="middle" fill="#000">0.9</text>
<text transform="translate(258.85 435.60) rotate(-90)" font-size="13" text-anchor="middle" fill="#000">0</text>
<text transform="translate(258.85 379.05) rotate(-90)" font-size="13" text-anchor="middle" fill="#000">5</text>
<text transform="translate(258.85 322.50) rotate(-90)" font-size="13" text-anchor="middle" fill="#000">10</text>
<text transform="translate(258.85 265.95) rotate(-90)" font-size="13" text-anchor="middle" fill="#000">15</text>
<text transform="translate(361.05 470.00) scale(0.86 1)" font-size="11.6" font-style="italic" text-anchor="middle" fill="#000" stroke="#000" stroke-width="0.35">T</text>
<text transform="translate(243.35 347.30) rotate(-90)" font-size="17" font-style="italic" text-anchor="middle" fill="#000" stroke="#000" stroke-width="0.15">d</text>
<text x="241.95" y="246.00" font-size="18.3" fill="#000"><tspan font-size="20">(</tspan><tspan dx="0.14">e</tspan><tspan font-size="20" dx="-0.33">)</tspan></text>
<g stroke="#d6d6d6" stroke-width="0.9" stroke-dasharray="2.2 2.13" fill="none"><path d="M499.05 262.50H684.60"/><path d="M672.35 442.25V255.50"/></g>
<polyline points="672.3,262.5" fill="none" stroke="none" marker-start="url(#m)" marker-mid="url(#m)" marker-end="url(#m)"/>
<path d="M669.25 259.45l6.1 6.1M669.25 265.55l6.1 -6.1" stroke="#f28e2b" stroke-width="1.45" fill="none"/>
<rect x="499.45" y="255.50" width="185.15" height="185.65" fill="none" stroke="#3c3c3c" stroke-width="0.8"/>
<path d="M502.50 441.15v4.3M540.83 441.15v4.3M579.16 441.15v4.3M617.49 441.15v4.3M655.82 441.15v4.3M499.45 435.60h-4.3M499.45 379.05h-4.3M499.45 322.50h-4.3M499.45 265.95h-4.3" stroke="#3c3c3c" stroke-width="0.8" fill="none"/>
<text x="502.50" y="455.30" font-size="13" text-anchor="middle" fill="#000">0.5</text>
<text x="540.83" y="455.30" font-size="13" text-anchor="middle" fill="#000">0.6</text>
<text x="579.16" y="455.30" font-size="13" text-anchor="middle" fill="#000">0.7</text>
<text x="617.49" y="455.30" font-size="13" text-anchor="middle" fill="#000">0.8</text>
<text x="655.82" y="455.30" font-size="13" text-anchor="middle" fill="#000">0.9</text>
<text transform="translate(490.75 435.60) rotate(-90)" font-size="13" text-anchor="middle" fill="#000">0</text>
<text transform="translate(490.75 379.05) rotate(-90)" font-size="13" text-anchor="middle" fill="#000">5</text>
<text transform="translate(490.75 322.50) rotate(-90)" font-size="13" text-anchor="middle" fill="#000">10</text>
<text transform="translate(490.75 265.95) rotate(-90)" font-size="13" text-anchor="middle" fill="#000">15</text>
<text transform="translate(592.95 470.00) scale(0.86 1)" font-size="11.6" font-style="italic" text-anchor="middle" fill="#000" stroke="#000" stroke-width="0.35">T</text>
<text transform="translate(475.25 347.30) rotate(-90)" font-size="17" font-style="italic" text-anchor="middle" fill="#000" stroke="#000" stroke-width="0.15">d</text>
<text x="473.85" y="246.00" font-size="18.3" fill="#000"><tspan font-size="20">(</tspan><tspan dx="0.14">f</tspan><tspan font-size="20" dx="-0.33">)</tspan></text>
<circle cx="104.2" cy="37.8" r="2.5" fill="none" stroke="#4e79a7" stroke-width="1.2"/>
<path d="M101.2 48.2l6 6M101.2 54.2l6 -6" stroke="#f28e2b" stroke-width="1.3" fill="none"/>
<text x="114.3" y="41.9" font-size="11.2" fill="#000">Sampled node sets</text>
<text x="114.3" y="55.7" font-size="11.2" fill="#000">Largest SD node set</text>
</svg>
</body></html>
